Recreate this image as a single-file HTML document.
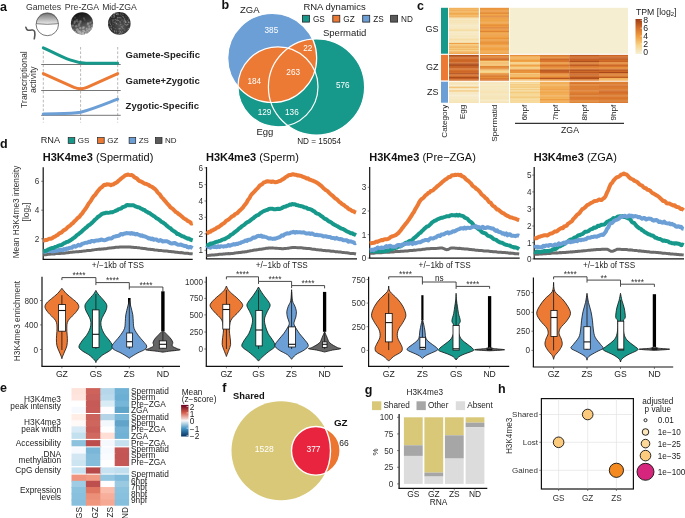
<!DOCTYPE html>
<html><head><meta charset="utf-8"><style>
html,body{margin:0;padding:0;background:#fff;width:685px;height:518px;overflow:hidden}
svg{display:block;font-family:"Liberation Sans",sans-serif;will-change:transform}
</style></head><body>
<svg width="685" height="518" viewBox="0 0 685 518">
<text x="0.00" y="10.50" font-size="12.5" text-anchor="start" font-weight="bold" fill="#111" >a</text><text x="43.50" y="10.20" font-size="8.7" text-anchor="middle" font-weight="normal" fill="#333" >Gametes</text><text x="82.00" y="10.00" font-size="8.7" text-anchor="middle" font-weight="normal" fill="#333" >Pre-ZGA</text><text x="119.50" y="10.00" font-size="8.7" text-anchor="middle" font-weight="normal" fill="#333" >Mid-ZGA</text><defs><linearGradient id="eggg" x1="0" y1="0" x2="0" y2="1"><stop offset="0" stop-color="#6e6e6e"/><stop offset="1" stop-color="#ececec"/></linearGradient><radialGradient id="emb1" cx="0.5" cy="0.2" r="0.9"><stop offset="0" stop-color="#222"/><stop offset="0.5" stop-color="#555"/><stop offset="1" stop-color="#bbb"/></radialGradient><radialGradient id="emb2" cx="0.5" cy="0.5" r="0.6"><stop offset="0" stop-color="#777"/><stop offset="1" stop-color="#3a3a3a"/></radialGradient></defs><path d="M36.1,23.7 A11.2,11.2 0 0 1 58.5,23.7 Q47.3,25 36.1,23.7 Z" fill="url(#eggg)"/><circle cx="47.3" cy="24.5" r="11.2" fill="none" stroke="#555" stroke-width="0.8"/><path d="M36.1,23.7 Q47.3,25 58.5,23.7" fill="none" stroke="#555" stroke-width="0.7"/><path d="M25.8,27.2 C26.5,31 29,30.5 32,30 C35,29.5 35.5,33 34.3,38.8" fill="none" stroke="#555" stroke-width="1.6" stroke-linecap="round"/><defs><linearGradient id="e1" x1="0" y1="0" x2="0.3" y2="1"><stop offset="0" stop-color="#0a0a0a"/><stop offset="0.5" stop-color="#333"/><stop offset="1" stop-color="#888"/></linearGradient><clipPath id="ce1"><circle cx="82" cy="23.4" r="11.1"/></clipPath><clipPath id="ce2"><circle cx="119.3" cy="23.4" r="11.3"/></clipPath><radialGradient id="e2" cx="0.6" cy="0.65" r="0.65"><stop offset="0" stop-color="#555"/><stop offset="1" stop-color="#1e1e1e"/></radialGradient></defs><circle cx="82" cy="23.4" r="11.1" fill="url(#e1)"/><g clip-path="url(#ce1)"><circle cx="89.7" cy="23.0" r="1.31" fill="#c8c8c8" opacity="0.31" stroke="#333" stroke-width="0.3"/><circle cx="85.1" cy="32.0" r="1.79" fill="#c8c8c8" opacity="0.68" stroke="#333" stroke-width="0.3"/><circle cx="90.2" cy="34.8" r="1.99" fill="#c8c8c8" opacity="0.84" stroke="#333" stroke-width="0.3"/><circle cx="90.3" cy="34.2" r="2.03" fill="#c8c8c8" opacity="0.80" stroke="#333" stroke-width="0.3"/><circle cx="72.5" cy="30.4" r="1.66" fill="#c8c8c8" opacity="0.60" stroke="#333" stroke-width="0.3"/><circle cx="77.3" cy="29.7" r="1.76" fill="#c8c8c8" opacity="0.56" stroke="#333" stroke-width="0.3"/><circle cx="77.6" cy="13.8" r="0.78" fill="#c8c8c8" opacity="0.15" stroke="#333" stroke-width="0.3"/><circle cx="75.0" cy="21.4" r="1.21" fill="#c8c8c8" opacity="0.27" stroke="#333" stroke-width="0.3"/><circle cx="71.0" cy="26.2" r="1.49" fill="#c8c8c8" opacity="0.42" stroke="#333" stroke-width="0.3"/><circle cx="86.8" cy="29.0" r="1.47" fill="#c8c8c8" opacity="0.53" stroke="#333" stroke-width="0.3"/><circle cx="86.0" cy="34.2" r="1.83" fill="#c8c8c8" opacity="0.80" stroke="#333" stroke-width="0.3"/><circle cx="79.0" cy="25.7" r="1.36" fill="#c8c8c8" opacity="0.40" stroke="#333" stroke-width="0.3"/><circle cx="74.8" cy="22.0" r="1.28" fill="#c8c8c8" opacity="0.28" stroke="#333" stroke-width="0.3"/><circle cx="90.9" cy="22.4" r="1.15" fill="#c8c8c8" opacity="0.29" stroke="#333" stroke-width="0.3"/><circle cx="80.2" cy="21.4" r="1.31" fill="#c8c8c8" opacity="0.27" stroke="#333" stroke-width="0.3"/><circle cx="80.5" cy="33.9" r="2.01" fill="#c8c8c8" opacity="0.78" stroke="#333" stroke-width="0.3"/><circle cx="87.6" cy="31.2" r="1.79" fill="#c8c8c8" opacity="0.64" stroke="#333" stroke-width="0.3"/><circle cx="77.1" cy="19.8" r="1.01" fill="#c8c8c8" opacity="0.23" stroke="#333" stroke-width="0.3"/><circle cx="84.0" cy="18.6" r="1.12" fill="#c8c8c8" opacity="0.21" stroke="#333" stroke-width="0.3"/><circle cx="80.0" cy="33.6" r="1.90" fill="#c8c8c8" opacity="0.77" stroke="#333" stroke-width="0.3"/><circle cx="80.2" cy="22.9" r="1.35" fill="#c8c8c8" opacity="0.31" stroke="#333" stroke-width="0.3"/><circle cx="71.8" cy="14.9" r="0.70" fill="#c8c8c8" opacity="0.16" stroke="#333" stroke-width="0.3"/><circle cx="92.9" cy="31.7" r="1.64" fill="#c8c8c8" opacity="0.66" stroke="#333" stroke-width="0.3"/><circle cx="80.2" cy="28.0" r="1.54" fill="#c8c8c8" opacity="0.49" stroke="#333" stroke-width="0.3"/><circle cx="82.8" cy="28.0" r="1.43" fill="#c8c8c8" opacity="0.49" stroke="#333" stroke-width="0.3"/><circle cx="80.3" cy="32.2" r="1.92" fill="#c8c8c8" opacity="0.69" stroke="#333" stroke-width="0.3"/><circle cx="91.2" cy="30.2" r="1.61" fill="#c8c8c8" opacity="0.59" stroke="#333" stroke-width="0.3"/><circle cx="72.9" cy="25.5" r="1.27" fill="#c8c8c8" opacity="0.39" stroke="#333" stroke-width="0.3"/><circle cx="88.3" cy="13.0" r="0.59" fill="#c8c8c8" opacity="0.15" stroke="#333" stroke-width="0.3"/><circle cx="92.4" cy="25.3" r="1.49" fill="#c8c8c8" opacity="0.38" stroke="#333" stroke-width="0.3"/><circle cx="88.2" cy="23.8" r="1.38" fill="#c8c8c8" opacity="0.33" stroke="#333" stroke-width="0.3"/><circle cx="87.7" cy="33.5" r="1.73" fill="#c8c8c8" opacity="0.76" stroke="#333" stroke-width="0.3"/><circle cx="83.5" cy="31.0" r="1.65" fill="#c8c8c8" opacity="0.63" stroke="#333" stroke-width="0.3"/><circle cx="76.2" cy="26.2" r="1.53" fill="#c8c8c8" opacity="0.42" stroke="#333" stroke-width="0.3"/><circle cx="83.9" cy="18.1" r="0.91" fill="#c8c8c8" opacity="0.20" stroke="#333" stroke-width="0.3"/><circle cx="86.0" cy="34.1" r="2.00" fill="#c8c8c8" opacity="0.79" stroke="#333" stroke-width="0.3"/><circle cx="77.7" cy="21.7" r="1.27" fill="#c8c8c8" opacity="0.28" stroke="#333" stroke-width="0.3"/><circle cx="72.6" cy="31.2" r="1.67" fill="#c8c8c8" opacity="0.64" stroke="#333" stroke-width="0.3"/><circle cx="83.8" cy="27.5" r="1.38" fill="#c8c8c8" opacity="0.47" stroke="#333" stroke-width="0.3"/><circle cx="92.5" cy="21.0" r="1.17" fill="#c8c8c8" opacity="0.26" stroke="#333" stroke-width="0.3"/><circle cx="92.6" cy="27.5" r="1.54" fill="#c8c8c8" opacity="0.47" stroke="#333" stroke-width="0.3"/><circle cx="74.6" cy="32.5" r="1.85" fill="#c8c8c8" opacity="0.70" stroke="#333" stroke-width="0.3"/><circle cx="87.9" cy="24.5" r="1.43" fill="#c8c8c8" opacity="0.36" stroke="#333" stroke-width="0.3"/><circle cx="76.6" cy="20.8" r="1.26" fill="#c8c8c8" opacity="0.25" stroke="#333" stroke-width="0.3"/><circle cx="78.6" cy="31.5" r="1.63" fill="#c8c8c8" opacity="0.65" stroke="#333" stroke-width="0.3"/><circle cx="89.3" cy="29.2" r="1.65" fill="#c8c8c8" opacity="0.54" stroke="#333" stroke-width="0.3"/><circle cx="75.1" cy="17.8" r="1.06" fill="#c8c8c8" opacity="0.19" stroke="#333" stroke-width="0.3"/><circle cx="89.0" cy="32.5" r="1.94" fill="#c8c8c8" opacity="0.71" stroke="#333" stroke-width="0.3"/><circle cx="71.7" cy="20.3" r="1.04" fill="#c8c8c8" opacity="0.24" stroke="#333" stroke-width="0.3"/><circle cx="82.9" cy="33.4" r="1.81" fill="#c8c8c8" opacity="0.76" stroke="#333" stroke-width="0.3"/><circle cx="91.8" cy="28.5" r="1.65" fill="#c8c8c8" opacity="0.51" stroke="#333" stroke-width="0.3"/><circle cx="89.1" cy="33.4" r="1.97" fill="#c8c8c8" opacity="0.76" stroke="#333" stroke-width="0.3"/><circle cx="87.9" cy="23.2" r="1.16" fill="#c8c8c8" opacity="0.31" stroke="#333" stroke-width="0.3"/><circle cx="74.7" cy="32.7" r="1.89" fill="#c8c8c8" opacity="0.72" stroke="#333" stroke-width="0.3"/><circle cx="79.0" cy="24.2" r="1.37" fill="#c8c8c8" opacity="0.35" stroke="#333" stroke-width="0.3"/><circle cx="79.8" cy="15.9" r="0.73" fill="#c8c8c8" opacity="0.17" stroke="#333" stroke-width="0.3"/><circle cx="74.4" cy="23.3" r="1.16" fill="#c8c8c8" opacity="0.32" stroke="#333" stroke-width="0.3"/><circle cx="80.8" cy="21.4" r="1.24" fill="#c8c8c8" opacity="0.27" stroke="#333" stroke-width="0.3"/><circle cx="84.8" cy="20.0" r="0.99" fill="#c8c8c8" opacity="0.23" stroke="#333" stroke-width="0.3"/><circle cx="89.2" cy="26.5" r="1.42" fill="#c8c8c8" opacity="0.43" stroke="#333" stroke-width="0.3"/><circle cx="86.2" cy="34.3" r="1.94" fill="#c8c8c8" opacity="0.81" stroke="#333" stroke-width="0.3"/></g><circle cx="119.3" cy="23.4" r="11.3" fill="url(#e2)"/><g clip-path="url(#ce2)"><circle cx="108.7" cy="14.0" r="0.35" fill="#cfcfcf" opacity="0.22"/><circle cx="109.2" cy="26.8" r="0.57" fill="#cfcfcf" opacity="0.29"/><circle cx="130.0" cy="22.8" r="0.54" fill="#cfcfcf" opacity="0.61"/><circle cx="129.2" cy="12.8" r="0.39" fill="#cfcfcf" opacity="0.47"/><circle cx="129.4" cy="14.0" r="0.39" fill="#cfcfcf" opacity="0.58"/><circle cx="110.6" cy="20.8" r="0.40" fill="#cfcfcf" opacity="0.51"/><circle cx="129.0" cy="15.9" r="0.52" fill="#cfcfcf" opacity="0.53"/><circle cx="126.9" cy="24.5" r="0.58" fill="#cfcfcf" opacity="0.36"/><circle cx="117.4" cy="17.2" r="0.53" fill="#cfcfcf" opacity="0.42"/><circle cx="114.1" cy="15.8" r="0.52" fill="#cfcfcf" opacity="0.47"/><circle cx="124.1" cy="20.7" r="0.45" fill="#cfcfcf" opacity="0.27"/><circle cx="124.1" cy="12.5" r="0.44" fill="#cfcfcf" opacity="0.54"/><circle cx="123.3" cy="14.2" r="0.37" fill="#cfcfcf" opacity="0.58"/><circle cx="122.5" cy="31.9" r="0.56" fill="#cfcfcf" opacity="0.40"/><circle cx="128.3" cy="28.6" r="0.40" fill="#cfcfcf" opacity="0.37"/><circle cx="109.6" cy="21.0" r="0.59" fill="#cfcfcf" opacity="0.25"/><circle cx="120.9" cy="14.5" r="0.32" fill="#cfcfcf" opacity="0.49"/><circle cx="113.4" cy="13.1" r="0.35" fill="#cfcfcf" opacity="0.49"/><circle cx="121.2" cy="12.3" r="0.37" fill="#cfcfcf" opacity="0.64"/><circle cx="113.0" cy="24.7" r="0.43" fill="#cfcfcf" opacity="0.55"/><circle cx="121.7" cy="29.8" r="0.46" fill="#cfcfcf" opacity="0.28"/><circle cx="112.0" cy="13.8" r="0.55" fill="#cfcfcf" opacity="0.25"/><circle cx="108.5" cy="33.8" r="0.36" fill="#cfcfcf" opacity="0.60"/><circle cx="109.9" cy="22.5" r="0.37" fill="#cfcfcf" opacity="0.57"/><circle cx="121.9" cy="26.5" r="0.53" fill="#cfcfcf" opacity="0.59"/><circle cx="115.8" cy="25.6" r="0.43" fill="#cfcfcf" opacity="0.25"/><circle cx="126.9" cy="25.4" r="0.54" fill="#cfcfcf" opacity="0.29"/><circle cx="120.2" cy="22.5" r="0.52" fill="#cfcfcf" opacity="0.23"/><circle cx="115.8" cy="23.0" r="0.32" fill="#cfcfcf" opacity="0.45"/><circle cx="124.6" cy="21.6" r="0.49" fill="#cfcfcf" opacity="0.47"/><circle cx="112.8" cy="19.9" r="0.60" fill="#cfcfcf" opacity="0.35"/><circle cx="117.7" cy="13.9" r="0.37" fill="#cfcfcf" opacity="0.27"/><circle cx="129.0" cy="28.4" r="0.56" fill="#cfcfcf" opacity="0.64"/><circle cx="121.8" cy="33.0" r="0.46" fill="#cfcfcf" opacity="0.39"/><circle cx="129.4" cy="32.4" r="0.58" fill="#cfcfcf" opacity="0.42"/><circle cx="125.5" cy="21.2" r="0.60" fill="#cfcfcf" opacity="0.61"/><circle cx="114.6" cy="33.1" r="0.36" fill="#cfcfcf" opacity="0.24"/><circle cx="124.3" cy="18.7" r="0.46" fill="#cfcfcf" opacity="0.49"/><circle cx="108.9" cy="28.8" r="0.38" fill="#cfcfcf" opacity="0.39"/><circle cx="115.8" cy="28.8" r="0.52" fill="#cfcfcf" opacity="0.33"/><circle cx="110.3" cy="18.8" r="0.42" fill="#cfcfcf" opacity="0.23"/><circle cx="111.5" cy="29.2" r="0.51" fill="#cfcfcf" opacity="0.64"/><circle cx="130.1" cy="31.8" r="0.41" fill="#cfcfcf" opacity="0.27"/><circle cx="115.0" cy="22.5" r="0.46" fill="#cfcfcf" opacity="0.44"/><circle cx="116.1" cy="31.3" r="0.39" fill="#cfcfcf" opacity="0.41"/><circle cx="128.0" cy="30.2" r="0.39" fill="#cfcfcf" opacity="0.31"/><circle cx="126.2" cy="12.2" r="0.34" fill="#cfcfcf" opacity="0.44"/><circle cx="120.1" cy="15.7" r="0.32" fill="#cfcfcf" opacity="0.29"/><circle cx="125.4" cy="22.5" r="0.59" fill="#cfcfcf" opacity="0.55"/><circle cx="130.1" cy="12.8" r="0.36" fill="#cfcfcf" opacity="0.21"/><circle cx="117.8" cy="19.6" r="0.32" fill="#cfcfcf" opacity="0.45"/><circle cx="110.1" cy="19.0" r="0.37" fill="#cfcfcf" opacity="0.56"/><circle cx="117.5" cy="17.9" r="0.31" fill="#cfcfcf" opacity="0.39"/><circle cx="122.2" cy="27.3" r="0.57" fill="#cfcfcf" opacity="0.56"/><circle cx="113.6" cy="15.1" r="0.53" fill="#cfcfcf" opacity="0.56"/><circle cx="119.5" cy="30.8" r="0.47" fill="#cfcfcf" opacity="0.33"/><circle cx="111.8" cy="12.4" r="0.49" fill="#cfcfcf" opacity="0.60"/><circle cx="128.5" cy="22.6" r="0.50" fill="#cfcfcf" opacity="0.62"/><circle cx="126.4" cy="25.6" r="0.42" fill="#cfcfcf" opacity="0.43"/><circle cx="111.9" cy="16.1" r="0.51" fill="#cfcfcf" opacity="0.65"/><circle cx="120.4" cy="21.2" r="0.41" fill="#cfcfcf" opacity="0.40"/><circle cx="126.1" cy="22.2" r="0.59" fill="#cfcfcf" opacity="0.27"/><circle cx="115.1" cy="23.8" r="0.42" fill="#cfcfcf" opacity="0.58"/><circle cx="126.7" cy="33.0" r="0.48" fill="#cfcfcf" opacity="0.21"/><circle cx="121.0" cy="24.4" r="0.45" fill="#cfcfcf" opacity="0.33"/><circle cx="124.0" cy="32.6" r="0.33" fill="#cfcfcf" opacity="0.50"/><circle cx="116.4" cy="23.6" r="0.57" fill="#cfcfcf" opacity="0.63"/><circle cx="122.5" cy="16.4" r="0.58" fill="#cfcfcf" opacity="0.28"/><circle cx="116.7" cy="30.7" r="0.39" fill="#cfcfcf" opacity="0.32"/><circle cx="129.5" cy="33.3" r="0.40" fill="#cfcfcf" opacity="0.38"/><circle cx="114.4" cy="15.0" r="0.38" fill="#cfcfcf" opacity="0.64"/><circle cx="109.8" cy="17.2" r="0.36" fill="#cfcfcf" opacity="0.24"/><circle cx="119.9" cy="28.8" r="0.55" fill="#cfcfcf" opacity="0.48"/><circle cx="126.5" cy="12.1" r="0.38" fill="#cfcfcf" opacity="0.63"/><circle cx="109.6" cy="18.0" r="0.44" fill="#cfcfcf" opacity="0.32"/><circle cx="120.3" cy="13.1" r="0.37" fill="#cfcfcf" opacity="0.63"/><circle cx="111.3" cy="32.5" r="0.35" fill="#cfcfcf" opacity="0.65"/><circle cx="123.2" cy="26.6" r="0.34" fill="#cfcfcf" opacity="0.22"/><circle cx="125.2" cy="16.0" r="0.36" fill="#cfcfcf" opacity="0.57"/><circle cx="127.8" cy="13.1" r="0.59" fill="#cfcfcf" opacity="0.44"/><circle cx="116.6" cy="14.4" r="0.42" fill="#cfcfcf" opacity="0.64"/><circle cx="114.3" cy="15.0" r="0.34" fill="#cfcfcf" opacity="0.26"/><circle cx="116.0" cy="32.7" r="0.32" fill="#cfcfcf" opacity="0.29"/><circle cx="129.2" cy="34.5" r="0.59" fill="#cfcfcf" opacity="0.31"/><circle cx="116.0" cy="33.5" r="0.45" fill="#cfcfcf" opacity="0.52"/><circle cx="115.1" cy="12.5" r="0.40" fill="#cfcfcf" opacity="0.54"/><circle cx="125.7" cy="24.9" r="0.44" fill="#cfcfcf" opacity="0.44"/><circle cx="118.0" cy="24.1" r="0.55" fill="#cfcfcf" opacity="0.29"/><circle cx="121.4" cy="33.1" r="0.55" fill="#cfcfcf" opacity="0.28"/><circle cx="129.8" cy="31.0" r="0.35" fill="#cfcfcf" opacity="0.32"/><circle cx="112.6" cy="13.2" r="0.59" fill="#cfcfcf" opacity="0.38"/><circle cx="127.7" cy="14.6" r="0.30" fill="#cfcfcf" opacity="0.59"/><circle cx="125.9" cy="34.4" r="0.51" fill="#cfcfcf" opacity="0.44"/><circle cx="125.3" cy="14.1" r="0.46" fill="#cfcfcf" opacity="0.40"/><circle cx="111.3" cy="25.6" r="0.40" fill="#cfcfcf" opacity="0.43"/><circle cx="116.4" cy="19.2" r="0.41" fill="#cfcfcf" opacity="0.47"/><circle cx="130.2" cy="33.2" r="0.56" fill="#cfcfcf" opacity="0.58"/><circle cx="114.5" cy="34.1" r="0.38" fill="#cfcfcf" opacity="0.26"/><circle cx="119.3" cy="28.5" r="0.40" fill="#cfcfcf" opacity="0.49"/><circle cx="114.4" cy="33.9" r="0.44" fill="#cfcfcf" opacity="0.42"/><circle cx="120.0" cy="31.8" r="0.60" fill="#cfcfcf" opacity="0.44"/><circle cx="118.0" cy="26.0" r="0.32" fill="#cfcfcf" opacity="0.39"/><circle cx="127.2" cy="29.6" r="0.32" fill="#cfcfcf" opacity="0.58"/><circle cx="116.7" cy="34.2" r="0.41" fill="#cfcfcf" opacity="0.30"/><circle cx="120.4" cy="32.0" r="0.43" fill="#cfcfcf" opacity="0.59"/><circle cx="124.1" cy="20.2" r="0.39" fill="#cfcfcf" opacity="0.43"/><circle cx="117.0" cy="20.4" r="0.50" fill="#cfcfcf" opacity="0.59"/><circle cx="121.2" cy="15.3" r="0.37" fill="#cfcfcf" opacity="0.37"/><circle cx="121.9" cy="15.2" r="0.32" fill="#cfcfcf" opacity="0.34"/><circle cx="114.4" cy="12.7" r="0.46" fill="#cfcfcf" opacity="0.61"/><circle cx="120.1" cy="28.7" r="0.55" fill="#cfcfcf" opacity="0.58"/><circle cx="128.6" cy="22.0" r="0.50" fill="#cfcfcf" opacity="0.25"/><circle cx="127.9" cy="20.5" r="0.44" fill="#cfcfcf" opacity="0.60"/><circle cx="114.5" cy="16.3" r="0.55" fill="#cfcfcf" opacity="0.47"/><circle cx="109.9" cy="12.6" r="0.41" fill="#cfcfcf" opacity="0.20"/><circle cx="126.8" cy="16.2" r="0.38" fill="#cfcfcf" opacity="0.37"/><circle cx="119.6" cy="21.8" r="0.49" fill="#cfcfcf" opacity="0.50"/><circle cx="117.9" cy="14.2" r="0.59" fill="#cfcfcf" opacity="0.51"/><circle cx="109.9" cy="22.0" r="0.53" fill="#cfcfcf" opacity="0.65"/><circle cx="109.5" cy="12.2" r="0.44" fill="#cfcfcf" opacity="0.39"/><circle cx="128.2" cy="30.7" r="0.40" fill="#cfcfcf" opacity="0.39"/><circle cx="121.2" cy="32.0" r="0.36" fill="#cfcfcf" opacity="0.38"/><circle cx="110.0" cy="26.5" r="0.31" fill="#cfcfcf" opacity="0.62"/><circle cx="119.8" cy="25.0" r="0.33" fill="#cfcfcf" opacity="0.30"/><circle cx="118.6" cy="31.4" r="0.46" fill="#cfcfcf" opacity="0.33"/><circle cx="130.2" cy="26.9" r="0.46" fill="#cfcfcf" opacity="0.29"/><circle cx="114.7" cy="32.3" r="0.34" fill="#cfcfcf" opacity="0.44"/><circle cx="122.0" cy="20.0" r="0.53" fill="#cfcfcf" opacity="0.61"/><circle cx="127.4" cy="28.7" r="0.36" fill="#cfcfcf" opacity="0.23"/><circle cx="117.8" cy="19.1" r="0.36" fill="#cfcfcf" opacity="0.59"/><circle cx="112.9" cy="30.6" r="0.58" fill="#cfcfcf" opacity="0.25"/><circle cx="128.6" cy="21.0" r="0.36" fill="#cfcfcf" opacity="0.28"/><circle cx="108.9" cy="23.3" r="0.42" fill="#cfcfcf" opacity="0.58"/><circle cx="126.8" cy="13.3" r="0.42" fill="#cfcfcf" opacity="0.38"/><circle cx="112.0" cy="17.7" r="0.38" fill="#cfcfcf" opacity="0.51"/><circle cx="115.7" cy="14.5" r="0.37" fill="#cfcfcf" opacity="0.40"/><circle cx="120.8" cy="17.5" r="0.51" fill="#cfcfcf" opacity="0.30"/><circle cx="123.2" cy="25.8" r="0.35" fill="#cfcfcf" opacity="0.54"/><circle cx="116.9" cy="24.2" r="0.48" fill="#cfcfcf" opacity="0.48"/><circle cx="118.0" cy="13.3" r="0.54" fill="#cfcfcf" opacity="0.59"/><circle cx="119.1" cy="25.1" r="0.38" fill="#cfcfcf" opacity="0.60"/><circle cx="123.5" cy="17.0" r="0.55" fill="#cfcfcf" opacity="0.64"/><circle cx="115.8" cy="34.5" r="0.44" fill="#cfcfcf" opacity="0.28"/><circle cx="124.2" cy="19.7" r="0.52" fill="#cfcfcf" opacity="0.46"/><circle cx="110.4" cy="23.9" r="0.56" fill="#cfcfcf" opacity="0.42"/><circle cx="120.2" cy="31.5" r="0.43" fill="#cfcfcf" opacity="0.42"/><circle cx="121.2" cy="30.6" r="0.36" fill="#cfcfcf" opacity="0.24"/><circle cx="125.2" cy="24.5" r="0.39" fill="#cfcfcf" opacity="0.60"/><circle cx="128.0" cy="24.2" r="0.60" fill="#cfcfcf" opacity="0.58"/><circle cx="124.9" cy="18.6" r="0.30" fill="#cfcfcf" opacity="0.51"/><circle cx="124.6" cy="19.9" r="0.44" fill="#cfcfcf" opacity="0.46"/><circle cx="113.6" cy="27.8" r="0.47" fill="#cfcfcf" opacity="0.37"/><circle cx="110.5" cy="24.5" r="0.40" fill="#cfcfcf" opacity="0.53"/><circle cx="111.9" cy="20.9" r="0.36" fill="#cfcfcf" opacity="0.38"/><circle cx="121.0" cy="14.4" r="0.32" fill="#cfcfcf" opacity="0.42"/><circle cx="112.6" cy="23.4" r="0.35" fill="#cfcfcf" opacity="0.25"/><circle cx="120.1" cy="32.9" r="0.56" fill="#cfcfcf" opacity="0.43"/><circle cx="117.0" cy="13.5" r="0.38" fill="#cfcfcf" opacity="0.34"/><circle cx="129.3" cy="14.6" r="0.58" fill="#cfcfcf" opacity="0.41"/><circle cx="117.8" cy="17.9" r="0.59" fill="#cfcfcf" opacity="0.28"/><circle cx="120.9" cy="23.5" r="0.36" fill="#cfcfcf" opacity="0.30"/><circle cx="130.3" cy="29.9" r="0.52" fill="#cfcfcf" opacity="0.61"/><circle cx="110.2" cy="27.9" r="0.53" fill="#cfcfcf" opacity="0.30"/><circle cx="118.3" cy="34.0" r="0.40" fill="#cfcfcf" opacity="0.54"/><circle cx="111.7" cy="27.1" r="0.38" fill="#cfcfcf" opacity="0.43"/><circle cx="116.4" cy="31.7" r="0.52" fill="#cfcfcf" opacity="0.43"/><circle cx="123.5" cy="21.7" r="0.54" fill="#cfcfcf" opacity="0.32"/><circle cx="120.3" cy="25.2" r="0.42" fill="#cfcfcf" opacity="0.22"/><circle cx="111.8" cy="26.5" r="0.36" fill="#cfcfcf" opacity="0.54"/><circle cx="119.4" cy="33.5" r="0.55" fill="#cfcfcf" opacity="0.53"/><circle cx="116.4" cy="13.0" r="0.47" fill="#cfcfcf" opacity="0.54"/><circle cx="128.8" cy="16.6" r="0.35" fill="#cfcfcf" opacity="0.64"/><circle cx="124.7" cy="23.0" r="0.52" fill="#cfcfcf" opacity="0.27"/><circle cx="120.3" cy="27.1" r="0.48" fill="#cfcfcf" opacity="0.27"/><circle cx="111.1" cy="26.1" r="0.57" fill="#cfcfcf" opacity="0.26"/><circle cx="108.2" cy="13.9" r="0.54" fill="#cfcfcf" opacity="0.38"/><circle cx="118.3" cy="34.5" r="0.48" fill="#cfcfcf" opacity="0.32"/><circle cx="123.8" cy="12.0" r="0.38" fill="#cfcfcf" opacity="0.51"/><circle cx="111.9" cy="12.7" r="0.46" fill="#cfcfcf" opacity="0.35"/><circle cx="129.9" cy="14.3" r="0.54" fill="#cfcfcf" opacity="0.37"/><circle cx="126.2" cy="22.1" r="0.50" fill="#cfcfcf" opacity="0.35"/><circle cx="113.1" cy="22.2" r="0.54" fill="#cfcfcf" opacity="0.36"/><circle cx="113.2" cy="21.4" r="0.33" fill="#cfcfcf" opacity="0.34"/><circle cx="120.9" cy="24.3" r="0.48" fill="#cfcfcf" opacity="0.33"/><circle cx="108.6" cy="12.6" r="0.40" fill="#cfcfcf" opacity="0.29"/><circle cx="120.9" cy="18.0" r="0.53" fill="#cfcfcf" opacity="0.47"/><circle cx="123.0" cy="28.6" r="0.46" fill="#cfcfcf" opacity="0.39"/><circle cx="115.0" cy="13.4" r="0.54" fill="#cfcfcf" opacity="0.43"/><circle cx="110.3" cy="32.9" r="0.47" fill="#cfcfcf" opacity="0.48"/><circle cx="117.9" cy="14.9" r="0.60" fill="#cfcfcf" opacity="0.28"/><circle cx="116.3" cy="34.6" r="0.34" fill="#cfcfcf" opacity="0.42"/><circle cx="118.8" cy="17.6" r="0.58" fill="#cfcfcf" opacity="0.39"/><circle cx="108.3" cy="22.7" r="0.30" fill="#cfcfcf" opacity="0.52"/><circle cx="127.6" cy="32.5" r="0.31" fill="#cfcfcf" opacity="0.50"/><circle cx="114.9" cy="22.7" r="0.39" fill="#cfcfcf" opacity="0.34"/><circle cx="111.0" cy="26.1" r="0.33" fill="#cfcfcf" opacity="0.63"/><circle cx="109.0" cy="33.8" r="0.36" fill="#cfcfcf" opacity="0.24"/><circle cx="124.8" cy="24.0" r="0.53" fill="#cfcfcf" opacity="0.43"/><circle cx="122.3" cy="13.9" r="0.50" fill="#cfcfcf" opacity="0.43"/><circle cx="129.7" cy="12.1" r="0.32" fill="#cfcfcf" opacity="0.50"/><circle cx="128.9" cy="21.5" r="0.51" fill="#cfcfcf" opacity="0.45"/><circle cx="116.8" cy="22.5" r="0.48" fill="#cfcfcf" opacity="0.21"/><circle cx="114.9" cy="28.7" r="0.38" fill="#cfcfcf" opacity="0.41"/><circle cx="113.8" cy="20.1" r="0.50" fill="#cfcfcf" opacity="0.53"/><circle cx="129.6" cy="22.8" r="0.36" fill="#cfcfcf" opacity="0.35"/><circle cx="109.3" cy="17.4" r="0.48" fill="#cfcfcf" opacity="0.47"/><circle cx="113.5" cy="16.1" r="0.33" fill="#cfcfcf" opacity="0.28"/><circle cx="119.3" cy="17.8" r="0.57" fill="#cfcfcf" opacity="0.45"/><circle cx="115.7" cy="21.7" r="0.31" fill="#cfcfcf" opacity="0.53"/><circle cx="125.0" cy="20.2" r="0.52" fill="#cfcfcf" opacity="0.32"/><circle cx="113.0" cy="17.2" r="0.36" fill="#cfcfcf" opacity="0.47"/><circle cx="122.5" cy="28.4" r="0.33" fill="#cfcfcf" opacity="0.54"/><circle cx="118.8" cy="20.6" r="0.45" fill="#cfcfcf" opacity="0.39"/><circle cx="112.5" cy="20.9" r="0.49" fill="#cfcfcf" opacity="0.52"/><circle cx="128.7" cy="16.4" r="0.57" fill="#cfcfcf" opacity="0.56"/><circle cx="124.1" cy="34.1" r="0.34" fill="#cfcfcf" opacity="0.55"/><circle cx="128.3" cy="14.8" r="0.48" fill="#cfcfcf" opacity="0.63"/><circle cx="114.6" cy="31.3" r="0.57" fill="#cfcfcf" opacity="0.40"/><circle cx="111.3" cy="16.9" r="0.55" fill="#cfcfcf" opacity="0.39"/><circle cx="115.1" cy="22.0" r="0.58" fill="#cfcfcf" opacity="0.31"/><circle cx="108.4" cy="33.5" r="0.40" fill="#cfcfcf" opacity="0.37"/><circle cx="130.1" cy="18.4" r="0.33" fill="#cfcfcf" opacity="0.60"/><circle cx="113.5" cy="17.0" r="0.58" fill="#cfcfcf" opacity="0.30"/><circle cx="128.4" cy="19.5" r="0.39" fill="#cfcfcf" opacity="0.30"/><circle cx="120.3" cy="24.7" r="0.42" fill="#cfcfcf" opacity="0.43"/><circle cx="114.7" cy="30.9" r="0.58" fill="#cfcfcf" opacity="0.54"/><circle cx="126.5" cy="13.6" r="0.38" fill="#cfcfcf" opacity="0.29"/><circle cx="111.5" cy="33.9" r="0.57" fill="#cfcfcf" opacity="0.61"/><circle cx="120.6" cy="14.6" r="0.43" fill="#cfcfcf" opacity="0.23"/><circle cx="128.4" cy="18.0" r="0.39" fill="#cfcfcf" opacity="0.63"/><circle cx="112.5" cy="32.9" r="0.39" fill="#cfcfcf" opacity="0.50"/><circle cx="110.4" cy="32.3" r="0.42" fill="#cfcfcf" opacity="0.36"/><circle cx="122.8" cy="25.4" r="0.38" fill="#cfcfcf" opacity="0.26"/><circle cx="121.0" cy="12.6" r="0.56" fill="#cfcfcf" opacity="0.35"/><circle cx="111.8" cy="19.4" r="0.33" fill="#cfcfcf" opacity="0.34"/><circle cx="120.3" cy="21.2" r="0.40" fill="#cfcfcf" opacity="0.33"/><circle cx="119.0" cy="29.6" r="0.43" fill="#cfcfcf" opacity="0.55"/><circle cx="118.9" cy="14.7" r="0.35" fill="#cfcfcf" opacity="0.58"/><circle cx="118.8" cy="20.6" r="0.45" fill="#cfcfcf" opacity="0.58"/><circle cx="116.5" cy="20.2" r="0.41" fill="#cfcfcf" opacity="0.20"/><circle cx="120.3" cy="22.8" r="0.45" fill="#cfcfcf" opacity="0.40"/><circle cx="118.7" cy="28.2" r="0.36" fill="#cfcfcf" opacity="0.64"/><circle cx="110.6" cy="31.6" r="0.35" fill="#cfcfcf" opacity="0.56"/><circle cx="113.9" cy="13.8" r="0.46" fill="#cfcfcf" opacity="0.58"/><circle cx="127.1" cy="31.8" r="0.59" fill="#cfcfcf" opacity="0.22"/><circle cx="116.6" cy="14.4" r="0.53" fill="#cfcfcf" opacity="0.40"/><circle cx="124.8" cy="30.0" r="0.60" fill="#cfcfcf" opacity="0.50"/><circle cx="127.8" cy="24.4" r="0.32" fill="#cfcfcf" opacity="0.60"/><circle cx="110.1" cy="13.9" r="0.55" fill="#cfcfcf" opacity="0.33"/><circle cx="123.0" cy="12.6" r="0.36" fill="#cfcfcf" opacity="0.52"/><circle cx="108.9" cy="23.5" r="0.58" fill="#cfcfcf" opacity="0.30"/><circle cx="123.9" cy="28.8" r="0.49" fill="#cfcfcf" opacity="0.54"/><circle cx="123.8" cy="12.3" r="0.36" fill="#cfcfcf" opacity="0.44"/><circle cx="129.9" cy="16.9" r="0.48" fill="#cfcfcf" opacity="0.26"/><circle cx="127.1" cy="22.1" r="0.46" fill="#cfcfcf" opacity="0.50"/><circle cx="111.1" cy="28.5" r="0.54" fill="#cfcfcf" opacity="0.59"/><circle cx="114.4" cy="17.3" r="0.35" fill="#cfcfcf" opacity="0.60"/><circle cx="117.9" cy="20.8" r="0.46" fill="#cfcfcf" opacity="0.51"/><circle cx="115.2" cy="19.6" r="0.53" fill="#cfcfcf" opacity="0.55"/><circle cx="114.7" cy="13.7" r="0.58" fill="#cfcfcf" opacity="0.53"/></g><line x1="43.3" y1="47" x2="43.3" y2="122.5" stroke="#888" stroke-width="0.6" stroke-dasharray="2.6,1.8"/><line x1="80.6" y1="47" x2="80.6" y2="122.5" stroke="#888" stroke-width="0.6" stroke-dasharray="2.6,1.8"/><line x1="117.7" y1="47" x2="117.7" y2="122.5" stroke="#888" stroke-width="0.6" stroke-dasharray="2.6,1.8"/><line x1="41.2" y1="64.5" x2="120.7" y2="64.5" stroke="#666" stroke-width="0.9"/><line x1="41.2" y1="90.5" x2="120.7" y2="90.5" stroke="#666" stroke-width="0.9"/><line x1="41.2" y1="115.3" x2="120.7" y2="115.3" stroke="#666" stroke-width="0.9"/><path d="M43.3,47.9 C58,54 70,62.6 86,63.2 L117.7,63.2" fill="none" stroke="#16988a" stroke-width="3" stroke-linecap="round"/><path d="M43.3,73.6 L74,87.3 Q80.6,90 87,87.3 L117.7,73.6" fill="none" stroke="#ec7a35" stroke-width="3" stroke-linecap="round"/><path d="M43.3,113.9 C60,113.5 72,113.8 80.6,112.3 C92,109.5 105,104 117.7,99.2" fill="none" stroke="#6c9fd6" stroke-width="3" stroke-linecap="round"/><text transform="translate(27,79.6) rotate(-90)" font-size="8.7" text-anchor="middle" fill="#333">Transcriptional</text><text transform="translate(35.5,79.6) rotate(-90)" font-size="8.7" text-anchor="middle" fill="#333">activity</text><text x="125.60" y="57.80" font-size="9.5" text-anchor="start" font-weight="bold" fill="#222" >Gamete-Specific</text><text x="125.60" y="83.50" font-size="9.5" text-anchor="start" font-weight="bold" fill="#222" >Gamete+Zygotic</text><text x="125.60" y="108.50" font-size="9.5" text-anchor="start" font-weight="bold" fill="#222" >Zygotic-Specific</text><text x="221.50" y="9.20" font-size="12.5" text-anchor="start" font-weight="bold" fill="#111" >b</text><defs><clipPath id="czga"><circle cx="272.2" cy="58" r="44.5"/></clipPath></defs><circle cx="278" cy="86.8" r="40" fill="#16988a"/><circle cx="316.5" cy="87" r="48.1" fill="#16988a"/><circle cx="272.2" cy="58" r="44.5" fill="#6c9fd6"/><g clip-path="url(#czga)"><circle cx="278" cy="86.8" r="40" fill="#ec7a35"/><circle cx="316.5" cy="87" r="48.1" fill="#ec7a35"/></g><circle cx="272.2" cy="58" r="44.5" fill="none" stroke="#fff" stroke-width="1.2"/><circle cx="278" cy="86.8" r="40" fill="none" stroke="#fff" stroke-width="1.2"/><circle cx="316.5" cy="87" r="48.1" fill="none" stroke="#fff" stroke-width="1.2"/><text x="271.40" y="33.20" font-size="8.2" text-anchor="middle" font-weight="normal" fill="#fff" >385</text><text x="307.70" y="50.60" font-size="8.2" text-anchor="middle" font-weight="normal" fill="#fff" >22</text><text x="293.20" y="75.00" font-size="8.2" text-anchor="middle" font-weight="normal" fill="#fff" >263</text><text x="254.30" y="84.40" font-size="8.2" text-anchor="middle" font-weight="normal" fill="#fff" >184</text><text x="342.80" y="88.30" font-size="8.2" text-anchor="middle" font-weight="normal" fill="#fff" >576</text><text x="264.60" y="114.50" font-size="8.2" text-anchor="middle" font-weight="normal" fill="#fff" >129</text><text x="291.90" y="114.50" font-size="8.2" text-anchor="middle" font-weight="normal" fill="#fff" >136</text><text x="240.00" y="12.80" font-size="9.5" text-anchor="start" font-weight="normal" fill="#222" >ZGA</text><text x="323.00" y="36.30" font-size="9.5" text-anchor="start" font-weight="normal" fill="#222" >Spermatid</text><text x="256.50" y="135.20" font-size="9.5" text-anchor="start" font-weight="normal" fill="#222" >Egg</text><text x="297.20" y="144.00" font-size="8.2" text-anchor="start" font-weight="normal" fill="#222" >ND = 15054</text><text x="303.40" y="10.30" font-size="9.5" text-anchor="start" font-weight="normal" fill="#222" >RNA dynamics</text><rect x="302.5" y="15.3" width="7" height="6.8" fill="#16988a" stroke="#222" stroke-width="0.8"/><text x="313.00" y="21.80" font-size="8.2" text-anchor="start" font-weight="normal" fill="#222" >GS</text><rect x="332.8" y="15.3" width="7" height="6.8" fill="#ec7a35" stroke="#222" stroke-width="0.8"/><text x="343.30" y="21.80" font-size="8.2" text-anchor="start" font-weight="normal" fill="#222" >GZ</text><rect x="362.7" y="15.3" width="7" height="6.8" fill="#6c9fd6" stroke="#222" stroke-width="0.8"/><text x="373.20" y="21.80" font-size="8.2" text-anchor="start" font-weight="normal" fill="#222" >ZS</text><rect x="390.6" y="15.3" width="7" height="6.8" fill="#5a5a5a" stroke="#222" stroke-width="0.8"/><text x="401.10" y="21.80" font-size="8.2" text-anchor="start" font-weight="normal" fill="#222" >ND</text><text x="417.00" y="9.80" font-size="12.5" text-anchor="start" font-weight="bold" fill="#111" >c</text><rect x="441" y="7.8" width="7" height="45.900000000000006" fill="#16988a"/><rect x="441" y="54.9" width="7" height="25.500000000000007" fill="#ec7a35"/><rect x="441" y="81.7" width="7" height="21.0" fill="#6c9fd6"/><rect x="449.00" y="7.80" width="29.80" height="1.51" fill="#f2b15b"/><rect x="449.00" y="9.01" width="29.80" height="1.51" fill="#f3b865"/><rect x="449.00" y="10.22" width="29.80" height="1.51" fill="#f0a448"/><rect x="449.00" y="11.42" width="29.80" height="1.51" fill="#f3bc69"/><rect x="449.00" y="12.63" width="29.80" height="1.51" fill="#f1a84f"/><rect x="449.00" y="13.84" width="29.80" height="1.51" fill="#f2af58"/><rect x="449.00" y="15.05" width="29.80" height="1.51" fill="#f3bc6a"/><rect x="449.00" y="16.26" width="29.80" height="1.51" fill="#f1aa50"/><rect x="449.00" y="17.46" width="29.80" height="1.51" fill="#f6dea7"/><rect x="449.00" y="18.67" width="29.80" height="1.51" fill="#f6e9c4"/><rect x="449.00" y="19.88" width="29.80" height="1.51" fill="#f6e3b2"/><rect x="449.00" y="21.09" width="29.80" height="1.51" fill="#f6e5b9"/><rect x="449.00" y="22.29" width="29.80" height="1.51" fill="#f6e1ae"/><rect x="449.00" y="23.50" width="29.80" height="1.51" fill="#f6e8bf"/><rect x="449.00" y="24.71" width="29.80" height="1.51" fill="#f6ecca"/><rect x="449.00" y="25.92" width="29.80" height="1.51" fill="#f6e9c3"/><rect x="449.00" y="27.13" width="29.80" height="1.51" fill="#f6e8c2"/><rect x="449.00" y="28.33" width="29.80" height="1.51" fill="#f6e3b2"/><rect x="449.00" y="29.54" width="29.80" height="1.51" fill="#f6da9a"/><rect x="449.00" y="30.75" width="29.80" height="1.51" fill="#f6e8c0"/><rect x="449.00" y="31.96" width="29.80" height="1.51" fill="#f6ebca"/><rect x="449.00" y="33.17" width="29.80" height="1.51" fill="#f6e6ba"/><rect x="449.00" y="34.37" width="29.80" height="1.51" fill="#f6e7be"/><rect x="449.00" y="35.58" width="29.80" height="1.51" fill="#f6e5ba"/><rect x="449.00" y="36.79" width="29.80" height="1.51" fill="#f6e9c2"/><rect x="449.00" y="38.00" width="29.80" height="1.51" fill="#f6e4b6"/><rect x="449.00" y="39.21" width="29.80" height="1.51" fill="#f6da9b"/><rect x="449.00" y="40.41" width="29.80" height="1.51" fill="#f6e2b0"/><rect x="449.00" y="41.62" width="29.80" height="1.51" fill="#f6e9c3"/><rect x="449.00" y="42.83" width="29.80" height="1.51" fill="#f0a144"/><rect x="449.00" y="44.04" width="29.80" height="1.51" fill="#f6cd81"/><rect x="449.00" y="45.24" width="29.80" height="1.51" fill="#f4be6c"/><rect x="449.00" y="46.45" width="29.80" height="1.51" fill="#f1ac54"/><rect x="449.00" y="47.66" width="29.80" height="1.51" fill="#f5cc7f"/><rect x="449.00" y="48.87" width="29.80" height="1.51" fill="#f3ba67"/><rect x="449.00" y="50.08" width="29.80" height="1.51" fill="#f6d187"/><rect x="449.00" y="51.28" width="29.80" height="1.51" fill="#f2b15a"/><rect x="449.00" y="52.49" width="29.80" height="1.51" fill="#f1ac53"/><rect x="480.00" y="7.80" width="29.00" height="1.51" fill="#ea953d"/><rect x="480.00" y="9.01" width="29.00" height="1.51" fill="#ec993f"/><rect x="480.00" y="10.22" width="29.00" height="1.51" fill="#ed9b40"/><rect x="480.00" y="11.42" width="29.00" height="1.51" fill="#ea963e"/><rect x="480.00" y="12.63" width="29.00" height="1.51" fill="#e38937"/><rect x="480.00" y="13.84" width="29.00" height="1.51" fill="#f0a64b"/><rect x="480.00" y="15.05" width="29.00" height="1.51" fill="#ec9a40"/><rect x="480.00" y="16.26" width="29.00" height="1.51" fill="#e08435"/><rect x="480.00" y="17.46" width="29.00" height="1.51" fill="#ef9f42"/><rect x="480.00" y="18.67" width="29.00" height="1.51" fill="#f0a74d"/><rect x="480.00" y="19.88" width="29.00" height="1.51" fill="#f0a448"/><rect x="480.00" y="21.09" width="29.00" height="1.51" fill="#f0a64b"/><rect x="480.00" y="22.29" width="29.00" height="1.51" fill="#f0a549"/><rect x="480.00" y="23.50" width="29.00" height="1.51" fill="#ef9f42"/><rect x="480.00" y="24.71" width="29.00" height="1.51" fill="#e68f3a"/><rect x="480.00" y="25.92" width="29.00" height="1.51" fill="#ed9c41"/><rect x="480.00" y="27.13" width="29.00" height="1.51" fill="#e08435"/><rect x="480.00" y="28.33" width="29.00" height="1.51" fill="#e48c39"/><rect x="480.00" y="29.54" width="29.00" height="1.51" fill="#f0a043"/><rect x="480.00" y="30.75" width="29.00" height="1.51" fill="#de8234"/><rect x="480.00" y="31.96" width="29.00" height="1.51" fill="#f0a448"/><rect x="480.00" y="33.17" width="29.00" height="1.51" fill="#f0a247"/><rect x="480.00" y="34.37" width="29.00" height="1.51" fill="#ed9b40"/><rect x="480.00" y="35.58" width="29.00" height="1.51" fill="#f1a74d"/><rect x="480.00" y="36.79" width="29.00" height="1.51" fill="#f0a043"/><rect x="480.00" y="38.00" width="29.00" height="1.51" fill="#e9943d"/><rect x="480.00" y="39.21" width="29.00" height="1.51" fill="#ee9d41"/><rect x="480.00" y="40.41" width="29.00" height="1.51" fill="#ec993f"/><rect x="480.00" y="41.62" width="29.00" height="1.51" fill="#e9953d"/><rect x="480.00" y="42.83" width="29.00" height="1.51" fill="#ea953e"/><rect x="480.00" y="44.04" width="29.00" height="1.51" fill="#ef9f42"/><rect x="480.00" y="45.24" width="29.00" height="1.51" fill="#f0a54a"/><rect x="480.00" y="46.45" width="29.00" height="1.51" fill="#f0a64b"/><rect x="480.00" y="47.66" width="29.00" height="1.51" fill="#f0a347"/><rect x="480.00" y="48.87" width="29.00" height="1.51" fill="#f0a043"/><rect x="480.00" y="50.08" width="29.00" height="1.51" fill="#f1a74d"/><rect x="480.00" y="51.28" width="29.00" height="1.51" fill="#f0a54a"/><rect x="480.00" y="52.49" width="29.00" height="1.51" fill="#f0a74c"/><rect x="510" y="7.8" width="118" height="45.900000000000006" fill="#f6eed0"/><rect x="449.00" y="54.90" width="29.80" height="1.51" fill="#b1501e"/><rect x="449.00" y="56.11" width="29.80" height="1.51" fill="#be5b23"/><rect x="449.00" y="57.33" width="29.80" height="1.51" fill="#d4702b"/><rect x="449.00" y="58.54" width="29.80" height="1.51" fill="#d16b29"/><rect x="449.00" y="59.76" width="29.80" height="1.51" fill="#cc6727"/><rect x="449.00" y="60.97" width="29.80" height="1.51" fill="#cb6627"/><rect x="449.00" y="62.19" width="29.80" height="1.51" fill="#d5712c"/><rect x="449.00" y="63.40" width="29.80" height="1.51" fill="#b2511f"/><rect x="449.00" y="64.61" width="29.80" height="1.51" fill="#ab4b1c"/><rect x="449.00" y="65.83" width="29.80" height="1.51" fill="#c66225"/><rect x="449.00" y="67.04" width="29.80" height="1.51" fill="#c56125"/><rect x="449.00" y="68.26" width="29.80" height="1.51" fill="#d6732d"/><rect x="449.00" y="69.47" width="29.80" height="1.51" fill="#d6722c"/><rect x="449.00" y="70.69" width="29.80" height="1.51" fill="#cc6727"/><rect x="449.00" y="71.90" width="29.80" height="1.51" fill="#d06b29"/><rect x="449.00" y="73.11" width="29.80" height="1.51" fill="#b3521f"/><rect x="449.00" y="74.33" width="29.80" height="1.51" fill="#d46f2b"/><rect x="449.00" y="75.54" width="29.80" height="1.51" fill="#d8762e"/><rect x="449.00" y="76.76" width="29.80" height="1.51" fill="#ad4c1d"/><rect x="449.00" y="77.97" width="29.80" height="1.51" fill="#c35f24"/><rect x="449.00" y="79.19" width="29.80" height="1.51" fill="#d4702b"/><rect x="480.00" y="54.90" width="29.00" height="1.51" fill="#d9782f"/><rect x="480.00" y="56.11" width="29.00" height="1.51" fill="#e38a38"/><rect x="480.00" y="57.33" width="29.00" height="1.51" fill="#d9782f"/><rect x="480.00" y="58.54" width="29.00" height="1.51" fill="#ce6828"/><rect x="480.00" y="59.76" width="29.00" height="1.51" fill="#e58e3a"/><rect x="480.00" y="60.97" width="29.00" height="1.51" fill="#f6cd80"/><rect x="480.00" y="62.19" width="29.00" height="1.51" fill="#f3ba66"/><rect x="480.00" y="63.40" width="29.00" height="1.51" fill="#f3b966"/><rect x="480.00" y="64.61" width="29.00" height="1.51" fill="#f6d389"/><rect x="480.00" y="65.83" width="29.00" height="1.51" fill="#e18636"/><rect x="480.00" y="67.04" width="29.00" height="1.51" fill="#e48b38"/><rect x="480.00" y="68.26" width="29.00" height="1.51" fill="#e58d39"/><rect x="480.00" y="69.47" width="29.00" height="1.51" fill="#f5c677"/><rect x="480.00" y="70.69" width="29.00" height="1.51" fill="#f6d997"/><rect x="480.00" y="71.90" width="29.00" height="1.51" fill="#f6d186"/><rect x="480.00" y="73.11" width="29.00" height="1.51" fill="#ec993f"/><rect x="480.00" y="74.33" width="29.00" height="1.51" fill="#e08535"/><rect x="480.00" y="75.54" width="29.00" height="1.51" fill="#d9792f"/><rect x="480.00" y="76.76" width="29.00" height="1.51" fill="#e7903b"/><rect x="480.00" y="77.97" width="29.00" height="1.51" fill="#da7a30"/><rect x="480.00" y="79.19" width="29.00" height="1.51" fill="#d9772f"/><rect x="510.00" y="54.90" width="30.00" height="1.51" fill="#e68e3a"/><rect x="510.00" y="56.11" width="30.00" height="1.51" fill="#f1ac53"/><rect x="510.00" y="57.33" width="30.00" height="1.51" fill="#f1ae56"/><rect x="510.00" y="58.54" width="30.00" height="1.51" fill="#f2b25c"/><rect x="510.00" y="59.76" width="30.00" height="1.51" fill="#ee9e42"/><rect x="510.00" y="60.97" width="30.00" height="1.51" fill="#f0a347"/><rect x="510.00" y="62.19" width="30.00" height="1.51" fill="#f6d48b"/><rect x="510.00" y="63.40" width="30.00" height="1.51" fill="#f5cb7e"/><rect x="510.00" y="64.61" width="30.00" height="1.51" fill="#ef9f42"/><rect x="510.00" y="65.83" width="30.00" height="1.51" fill="#f2b661"/><rect x="510.00" y="67.04" width="30.00" height="1.51" fill="#f6ce82"/><rect x="510.00" y="68.26" width="30.00" height="1.51" fill="#f4c373"/><rect x="510.00" y="69.47" width="30.00" height="1.51" fill="#e28837"/><rect x="510.00" y="70.69" width="30.00" height="1.51" fill="#e8933c"/><rect x="510.00" y="71.90" width="30.00" height="1.51" fill="#e8923c"/><rect x="510.00" y="73.11" width="30.00" height="1.51" fill="#f5c97c"/><rect x="510.00" y="74.33" width="30.00" height="1.51" fill="#f0a64b"/><rect x="510.00" y="75.54" width="30.00" height="1.51" fill="#f5c677"/><rect x="510.00" y="76.76" width="30.00" height="1.51" fill="#ef9e42"/><rect x="510.00" y="77.97" width="30.00" height="1.51" fill="#df8234"/><rect x="510.00" y="79.19" width="30.00" height="1.51" fill="#f4c474"/><rect x="540.00" y="54.90" width="29.30" height="1.51" fill="#dc7e32"/><rect x="540.00" y="56.11" width="29.30" height="1.51" fill="#e08535"/><rect x="540.00" y="57.33" width="29.30" height="1.51" fill="#e38a38"/><rect x="540.00" y="58.54" width="29.30" height="1.51" fill="#cb6627"/><rect x="540.00" y="59.76" width="29.30" height="1.51" fill="#d7742d"/><rect x="540.00" y="60.97" width="29.30" height="1.51" fill="#d7742d"/><rect x="540.00" y="62.19" width="29.30" height="1.51" fill="#ed9b40"/><rect x="540.00" y="63.40" width="29.30" height="1.51" fill="#e8933c"/><rect x="540.00" y="64.61" width="29.30" height="1.51" fill="#d46f2b"/><rect x="540.00" y="65.83" width="29.30" height="1.51" fill="#e08435"/><rect x="540.00" y="67.04" width="29.30" height="1.51" fill="#e7913c"/><rect x="540.00" y="68.26" width="29.30" height="1.51" fill="#e7913b"/><rect x="540.00" y="69.47" width="29.30" height="1.51" fill="#b85621"/><rect x="540.00" y="70.69" width="29.30" height="1.51" fill="#c35f24"/><rect x="540.00" y="71.90" width="29.30" height="1.51" fill="#c96426"/><rect x="540.00" y="73.11" width="29.30" height="1.51" fill="#e28737"/><rect x="540.00" y="74.33" width="29.30" height="1.51" fill="#e58d39"/><rect x="540.00" y="75.54" width="29.30" height="1.51" fill="#ee9d41"/><rect x="540.00" y="76.76" width="29.30" height="1.51" fill="#dc7e32"/><rect x="540.00" y="77.97" width="29.30" height="1.51" fill="#b55320"/><rect x="540.00" y="79.19" width="29.30" height="1.51" fill="#ec993f"/><rect x="569.30" y="54.90" width="29.70" height="1.51" fill="#bd5a22"/><rect x="569.30" y="56.11" width="29.70" height="1.51" fill="#d36d2a"/><rect x="569.30" y="57.33" width="29.70" height="1.51" fill="#cb6627"/><rect x="569.30" y="58.54" width="29.70" height="1.51" fill="#c76226"/><rect x="569.30" y="59.76" width="29.70" height="1.51" fill="#c76226"/><rect x="569.30" y="60.97" width="29.70" height="1.51" fill="#b04f1e"/><rect x="569.30" y="62.19" width="29.70" height="1.51" fill="#dd7e32"/><rect x="569.30" y="63.40" width="29.70" height="1.51" fill="#da7a30"/><rect x="569.30" y="64.61" width="29.70" height="1.51" fill="#b85621"/><rect x="569.30" y="65.83" width="29.70" height="1.51" fill="#d9782f"/><rect x="569.30" y="67.04" width="29.70" height="1.51" fill="#df8234"/><rect x="569.30" y="68.26" width="29.70" height="1.51" fill="#df8334"/><rect x="569.30" y="69.47" width="29.70" height="1.51" fill="#ac4c1d"/><rect x="569.30" y="70.69" width="29.70" height="1.51" fill="#d06b29"/><rect x="569.30" y="71.90" width="29.70" height="1.51" fill="#ba5721"/><rect x="569.30" y="73.11" width="29.70" height="1.51" fill="#d36d2a"/><rect x="569.30" y="74.33" width="29.70" height="1.51" fill="#c56125"/><rect x="569.30" y="75.54" width="29.70" height="1.51" fill="#d97930"/><rect x="569.30" y="76.76" width="29.70" height="1.51" fill="#b85521"/><rect x="569.30" y="77.97" width="29.70" height="1.51" fill="#b04f1e"/><rect x="569.30" y="79.19" width="29.70" height="1.51" fill="#dd8033"/><rect x="599.00" y="54.90" width="29.00" height="1.51" fill="#ca6527"/><rect x="599.00" y="56.11" width="29.00" height="1.51" fill="#d6722c"/><rect x="599.00" y="57.33" width="29.00" height="1.51" fill="#c15d24"/><rect x="599.00" y="58.54" width="29.00" height="1.51" fill="#c46025"/><rect x="599.00" y="59.76" width="29.00" height="1.51" fill="#d16c29"/><rect x="599.00" y="60.97" width="29.00" height="1.51" fill="#c86326"/><rect x="599.00" y="62.19" width="29.00" height="1.51" fill="#e7903b"/><rect x="599.00" y="63.40" width="29.00" height="1.51" fill="#e08335"/><rect x="599.00" y="64.61" width="29.00" height="1.51" fill="#cc6727"/><rect x="599.00" y="65.83" width="29.00" height="1.51" fill="#d8752e"/><rect x="599.00" y="67.04" width="29.00" height="1.51" fill="#e68f3a"/><rect x="599.00" y="68.26" width="29.00" height="1.51" fill="#dd7f32"/><rect x="599.00" y="69.47" width="29.00" height="1.51" fill="#ba5721"/><rect x="599.00" y="70.69" width="29.00" height="1.51" fill="#d16b29"/><rect x="599.00" y="71.90" width="29.00" height="1.51" fill="#a8481b"/><rect x="599.00" y="73.11" width="29.00" height="1.51" fill="#db7b30"/><rect x="599.00" y="74.33" width="29.00" height="1.51" fill="#db7b31"/><rect x="599.00" y="75.54" width="29.00" height="1.51" fill="#e08435"/><rect x="599.00" y="76.76" width="29.00" height="1.51" fill="#bb5822"/><rect x="599.00" y="77.97" width="29.00" height="1.51" fill="#f2b25c"/><rect x="599.00" y="79.19" width="29.00" height="1.51" fill="#f2b15a"/><rect x="449.00" y="81.70" width="29.80" height="1.54" fill="#f6e7bd"/><rect x="449.00" y="82.94" width="29.80" height="1.54" fill="#f6e4b7"/><rect x="449.00" y="84.17" width="29.80" height="1.54" fill="#f6e6bc"/><rect x="449.00" y="85.41" width="29.80" height="1.54" fill="#f6eccc"/><rect x="449.00" y="86.64" width="29.80" height="1.54" fill="#f4c06f"/><rect x="449.00" y="87.88" width="29.80" height="1.54" fill="#f6e4b6"/><rect x="449.00" y="89.11" width="29.80" height="1.54" fill="#f6e9c2"/><rect x="449.00" y="90.35" width="29.80" height="1.54" fill="#f5c576"/><rect x="449.00" y="91.58" width="29.80" height="1.54" fill="#f6e9c4"/><rect x="449.00" y="92.82" width="29.80" height="1.54" fill="#f6eac6"/><rect x="449.00" y="94.05" width="29.80" height="1.54" fill="#f6eac7"/><rect x="449.00" y="95.29" width="29.80" height="1.54" fill="#f6edcf"/><rect x="449.00" y="96.52" width="29.80" height="1.54" fill="#f6e9c4"/><rect x="449.00" y="97.76" width="29.80" height="1.54" fill="#f6eac7"/><rect x="449.00" y="98.99" width="29.80" height="1.54" fill="#f6e8c2"/><rect x="449.00" y="100.23" width="29.80" height="1.54" fill="#f6e4b5"/><rect x="449.00" y="101.46" width="29.80" height="1.54" fill="#f6e4b5"/><rect x="480.00" y="81.70" width="29.00" height="1.54" fill="#f6e8c2"/><rect x="480.00" y="82.94" width="29.00" height="1.54" fill="#f6e7bf"/><rect x="480.00" y="84.17" width="29.00" height="1.54" fill="#f6e9c3"/><rect x="480.00" y="85.41" width="29.00" height="1.54" fill="#f6e4b5"/><rect x="480.00" y="86.64" width="29.00" height="1.54" fill="#f6e7bf"/><rect x="480.00" y="87.88" width="29.00" height="1.54" fill="#f6e8c1"/><rect x="480.00" y="89.11" width="29.00" height="1.54" fill="#f6e6bc"/><rect x="480.00" y="90.35" width="29.00" height="1.54" fill="#f6e3b2"/><rect x="480.00" y="91.58" width="29.00" height="1.54" fill="#f6e3b4"/><rect x="480.00" y="92.82" width="29.00" height="1.54" fill="#f6e7bf"/><rect x="480.00" y="94.05" width="29.00" height="1.54" fill="#f6e8c1"/><rect x="480.00" y="95.29" width="29.00" height="1.54" fill="#f6e3b2"/><rect x="480.00" y="96.52" width="29.00" height="1.54" fill="#f6e5b9"/><rect x="480.00" y="97.76" width="29.00" height="1.54" fill="#f6e4b6"/><rect x="480.00" y="98.99" width="29.00" height="1.54" fill="#f6e9c2"/><rect x="480.00" y="100.23" width="29.00" height="1.54" fill="#f6e9c3"/><rect x="480.00" y="101.46" width="29.00" height="1.54" fill="#f6e4b7"/><rect x="510.00" y="81.70" width="30.00" height="1.54" fill="#f6d691"/><rect x="510.00" y="82.94" width="30.00" height="1.54" fill="#f6dea5"/><rect x="510.00" y="84.17" width="30.00" height="1.54" fill="#f5c677"/><rect x="510.00" y="85.41" width="30.00" height="1.54" fill="#f6d186"/><rect x="510.00" y="86.64" width="30.00" height="1.54" fill="#f5cb7e"/><rect x="510.00" y="87.88" width="30.00" height="1.54" fill="#f6dda4"/><rect x="510.00" y="89.11" width="30.00" height="1.54" fill="#f5c97b"/><rect x="510.00" y="90.35" width="30.00" height="1.54" fill="#f6dea5"/><rect x="510.00" y="91.58" width="30.00" height="1.54" fill="#f5c97b"/><rect x="510.00" y="92.82" width="30.00" height="1.54" fill="#f6d690"/><rect x="510.00" y="94.05" width="30.00" height="1.54" fill="#f6d896"/><rect x="510.00" y="95.29" width="30.00" height="1.54" fill="#f6d48b"/><rect x="510.00" y="96.52" width="30.00" height="1.54" fill="#f5c778"/><rect x="510.00" y="97.76" width="30.00" height="1.54" fill="#f6da9a"/><rect x="510.00" y="98.99" width="30.00" height="1.54" fill="#f6dca2"/><rect x="510.00" y="100.23" width="30.00" height="1.54" fill="#f6d48c"/><rect x="510.00" y="101.46" width="30.00" height="1.54" fill="#f6da9c"/><rect x="540.00" y="81.70" width="29.30" height="1.54" fill="#f2b15a"/><rect x="540.00" y="82.94" width="29.30" height="1.54" fill="#f2af58"/><rect x="540.00" y="84.17" width="29.30" height="1.54" fill="#f2b35d"/><rect x="540.00" y="85.41" width="29.30" height="1.54" fill="#f1ae56"/><rect x="540.00" y="86.64" width="29.30" height="1.54" fill="#f1ab52"/><rect x="540.00" y="87.88" width="29.30" height="1.54" fill="#f1ab52"/><rect x="540.00" y="89.11" width="29.30" height="1.54" fill="#ee9d41"/><rect x="540.00" y="90.35" width="29.30" height="1.54" fill="#f1ab53"/><rect x="540.00" y="91.58" width="29.30" height="1.54" fill="#f0a54a"/><rect x="540.00" y="92.82" width="29.30" height="1.54" fill="#f2af57"/><rect x="540.00" y="94.05" width="29.30" height="1.54" fill="#f1a950"/><rect x="540.00" y="95.29" width="29.30" height="1.54" fill="#f2b45e"/><rect x="540.00" y="96.52" width="29.30" height="1.54" fill="#f1ac54"/><rect x="540.00" y="97.76" width="29.30" height="1.54" fill="#f2b45e"/><rect x="540.00" y="98.99" width="29.30" height="1.54" fill="#ee9d42"/><rect x="540.00" y="100.23" width="29.30" height="1.54" fill="#f0a347"/><rect x="540.00" y="101.46" width="29.30" height="1.54" fill="#f2ae57"/><rect x="569.30" y="81.70" width="29.70" height="1.54" fill="#de8033"/><rect x="569.30" y="82.94" width="29.70" height="1.54" fill="#d8762e"/><rect x="569.30" y="84.17" width="29.70" height="1.54" fill="#e38937"/><rect x="569.30" y="85.41" width="29.70" height="1.54" fill="#d9782f"/><rect x="569.30" y="86.64" width="29.70" height="1.54" fill="#de8134"/><rect x="569.30" y="87.88" width="29.70" height="1.54" fill="#dd8033"/><rect x="569.30" y="89.11" width="29.70" height="1.54" fill="#d9782f"/><rect x="569.30" y="90.35" width="29.70" height="1.54" fill="#df8234"/><rect x="569.30" y="91.58" width="29.70" height="1.54" fill="#dd7f33"/><rect x="569.30" y="92.82" width="29.70" height="1.54" fill="#db7b31"/><rect x="569.30" y="94.05" width="29.70" height="1.54" fill="#d7752d"/><rect x="569.30" y="95.29" width="29.70" height="1.54" fill="#df8335"/><rect x="569.30" y="96.52" width="29.70" height="1.54" fill="#d9782f"/><rect x="569.30" y="97.76" width="29.70" height="1.54" fill="#db7b31"/><rect x="569.30" y="98.99" width="29.70" height="1.54" fill="#dc7d31"/><rect x="569.30" y="100.23" width="29.70" height="1.54" fill="#df8234"/><rect x="569.30" y="101.46" width="29.70" height="1.54" fill="#df8335"/><rect x="599.00" y="81.70" width="29.00" height="1.54" fill="#dd8033"/><rect x="599.00" y="82.94" width="29.00" height="1.54" fill="#dc7e32"/><rect x="599.00" y="84.17" width="29.00" height="1.54" fill="#dd7f33"/><rect x="599.00" y="85.41" width="29.00" height="1.54" fill="#d4702b"/><rect x="599.00" y="86.64" width="29.00" height="1.54" fill="#db7b31"/><rect x="599.00" y="87.88" width="29.00" height="1.54" fill="#dc7d32"/><rect x="599.00" y="89.11" width="29.00" height="1.54" fill="#dd7f33"/><rect x="599.00" y="90.35" width="29.00" height="1.54" fill="#d36e2a"/><rect x="599.00" y="91.58" width="29.00" height="1.54" fill="#d36d2a"/><rect x="599.00" y="92.82" width="29.00" height="1.54" fill="#d5722c"/><rect x="599.00" y="94.05" width="29.00" height="1.54" fill="#da7a30"/><rect x="599.00" y="95.29" width="29.00" height="1.54" fill="#db7b31"/><rect x="599.00" y="96.52" width="29.00" height="1.54" fill="#da7a30"/><rect x="599.00" y="97.76" width="29.00" height="1.54" fill="#d8762e"/><rect x="599.00" y="98.99" width="29.00" height="1.54" fill="#dc7d32"/><rect x="599.00" y="100.23" width="29.00" height="1.54" fill="#d8772e"/><rect x="599.00" y="101.46" width="29.00" height="1.54" fill="#db7b31"/><text x="438.50" y="32.40" font-size="9" text-anchor="end" font-weight="normal" fill="#222" >GS</text><text x="438.50" y="69.60" font-size="9" text-anchor="end" font-weight="normal" fill="#222" >GZ</text><text x="438.50" y="94.60" font-size="9" text-anchor="end" font-weight="normal" fill="#222" >ZS</text><text transform="translate(447.0,104.8) rotate(-90)" font-size="8.1" text-anchor="end" fill="#222">Category</text><text transform="translate(464.5,104.8) rotate(-90)" font-size="8.1" text-anchor="end" fill="#222">Egg</text><text transform="translate(497.1,104.8) rotate(-90)" font-size="8.1" text-anchor="end" fill="#222">Spermatid</text><text transform="translate(527.0,104.8) rotate(-90)" font-size="8.1" text-anchor="end" fill="#222">6hpf</text><text transform="translate(557.5,104.8) rotate(-90)" font-size="8.1" text-anchor="end" fill="#222">7hpf</text><text transform="translate(587.0,104.8) rotate(-90)" font-size="8.1" text-anchor="end" fill="#222">8hpf</text><text transform="translate(616.0,104.8) rotate(-90)" font-size="8.1" text-anchor="end" fill="#222">9hpf</text><line x1="515" y1="123.3" x2="624" y2="123.3" stroke="#333" stroke-width="1.3"/><text x="570.00" y="132.50" font-size="8.7" text-anchor="middle" font-weight="normal" fill="#222" >ZGA</text><text x="636.00" y="14.90" font-size="8.7" text-anchor="start" font-weight="normal" fill="#222" >TPM [log<tspan font-size="6" dy="1.5">2</tspan><tspan dy="-1.5">]</tspan></text><defs><linearGradient id="tpmg" x1="0" y1="1" x2="0" y2="0"><stop offset="0.0" stop-color="#f6f1d8"/><stop offset="0.25" stop-color="#f7d48a"/><stop offset="0.5" stop-color="#f0a043"/><stop offset="0.75" stop-color="#d36d2a"/><stop offset="1.0" stop-color="#9a3c17"/></linearGradient></defs><rect x="635.5" y="19" width="6.5" height="35" fill="url(#tpmg)"/><line x1="640.5" y1="20.3" x2="642" y2="20.3" stroke="#fff" stroke-width="0.6"/><text x="643.30" y="23.30" font-size="8.7" text-anchor="start" font-weight="normal" fill="#222" >8</text><line x1="640.5" y1="28.200000000000003" x2="642" y2="28.200000000000003" stroke="#fff" stroke-width="0.6"/><text x="643.30" y="31.20" font-size="8.7" text-anchor="start" font-weight="normal" fill="#222" >6</text><line x1="640.5" y1="36.1" x2="642" y2="36.1" stroke="#fff" stroke-width="0.6"/><text x="643.30" y="39.10" font-size="8.7" text-anchor="start" font-weight="normal" fill="#222" >4</text><line x1="640.5" y1="44.0" x2="642" y2="44.0" stroke="#fff" stroke-width="0.6"/><text x="643.30" y="47.00" font-size="8.7" text-anchor="start" font-weight="normal" fill="#222" >2</text><line x1="640.5" y1="51.900000000000006" x2="642" y2="51.900000000000006" stroke="#fff" stroke-width="0.6"/><text x="643.30" y="54.90" font-size="8.7" text-anchor="start" font-weight="normal" fill="#222" >0</text><text x="0.00" y="148.00" font-size="12.5" text-anchor="start" font-weight="bold" fill="#111" >d</text><text x="40.70" y="143.40" font-size="9.2" text-anchor="start" font-weight="normal" fill="#222" >RNA</text><rect x="68.2" y="137.6" width="6.6" height="5.8" fill="#16988a" stroke="#222" stroke-width="0.7"/><text x="77.80" y="143.20" font-size="8" text-anchor="start" font-weight="normal" fill="#222" >GS</text><rect x="97.60000000000001" y="137.6" width="6.6" height="5.8" fill="#ec7a35" stroke="#222" stroke-width="0.7"/><text x="107.20" y="143.20" font-size="8" text-anchor="start" font-weight="normal" fill="#222" >GZ</text><rect x="129.1" y="137.6" width="6.6" height="5.8" fill="#6c9fd6" stroke="#222" stroke-width="0.7"/><text x="138.70" y="143.20" font-size="8" text-anchor="start" font-weight="normal" fill="#222" >ZS</text><rect x="155.4" y="137.6" width="6.6" height="5.8" fill="#5a5a5a" stroke="#222" stroke-width="0.7"/><text x="165.00" y="143.20" font-size="8" text-anchor="start" font-weight="normal" fill="#222" >ND</text><text transform="translate(19,212) rotate(-90)" font-size="8.3" text-anchor="middle" fill="#333">Mean H3K4me3 intensity</text><text transform="translate(28.5,212) rotate(-90)" font-size="8.3" text-anchor="middle" fill="#333">[log<tspan font-size="5.5" dy="1.3">2</tspan><tspan dy="-1.3">]</tspan></text><line x1="43.2" y1="167.3" x2="43.2" y2="259.3" stroke="#111" stroke-width="1.2"/><line x1="42.6" y1="259.3" x2="192.7" y2="259.3" stroke="#111" stroke-width="1.2"/><line x1="41.2" y1="181.3" x2="43.2" y2="181.3" stroke="#333" stroke-width="0.6"/><text x="39.40" y="184.30" font-size="8.2" text-anchor="end" font-weight="normal" fill="#333" >6</text><line x1="41.2" y1="210.2" x2="43.2" y2="210.2" stroke="#333" stroke-width="0.6"/><text x="39.40" y="213.20" font-size="8.2" text-anchor="end" font-weight="normal" fill="#333" >4</text><line x1="41.2" y1="238.8" x2="43.2" y2="238.8" stroke="#333" stroke-width="0.6"/><text x="39.40" y="241.80" font-size="8.2" text-anchor="end" font-weight="normal" fill="#333" >2</text><path d="M43.20,254.79 L44.50,254.70 L45.80,254.68 L47.10,254.45 L48.40,254.35 L49.70,254.26 L51.00,254.05 L52.30,254.02 L53.60,253.94 L54.90,253.88 L56.20,253.59 L57.50,253.53 L58.80,253.37 L60.10,253.44 L61.40,253.30 L62.70,253.02 L64.00,253.15 L65.30,253.03 L66.60,252.83 L67.90,252.71 L69.20,252.47 L70.50,252.31 L71.80,252.32 L73.10,252.08 L74.40,251.98 L75.70,251.86 L77.00,251.68 L78.30,251.65 L79.60,251.50 L80.90,251.45 L82.20,251.22 L83.50,251.10 L84.80,250.91 L86.10,250.80 L87.40,250.59 L88.70,250.39 L90.00,250.41 L91.30,250.25 L92.60,250.06 L93.90,249.87 L95.20,249.62 L96.50,249.45 L97.80,249.32 L99.10,249.12 L100.40,249.15 L101.70,248.92 L103.00,248.90 L104.30,248.66 L105.60,248.68 L106.90,248.51 L108.20,248.16 L109.50,248.07 L110.80,248.10 L112.10,247.84 L113.40,247.83 L114.70,247.55 L116.00,247.34 L117.30,247.37 L118.60,247.30 L119.90,247.08 L121.20,246.96 L122.50,246.97 L123.80,247.09 L125.10,247.03 L126.40,246.89 L127.70,246.96 L129.00,246.98 L130.30,247.04 L131.60,247.31 L132.90,247.25 L134.20,247.45 L135.50,247.54 L136.80,247.60 L138.10,247.87 L139.40,247.86 L140.70,248.14 L142.00,248.16 L143.30,248.40 L144.60,248.51 L145.90,248.69 L147.20,249.04 L148.50,249.16 L149.80,249.21 L151.10,249.52 L152.40,249.52 L153.70,249.74 L155.00,250.01 L156.30,250.12 L157.60,250.14 L158.90,250.50 L160.20,250.45 L161.50,250.60 L162.80,250.86 L164.10,250.89 L165.40,251.02 L166.70,251.10 L168.00,251.23 L169.30,251.49 L170.60,251.54 L171.90,251.77 L173.20,251.85 L174.50,252.00 L175.80,252.26 L177.10,252.28 L178.40,252.44 L179.70,252.64 L181.00,252.61 L182.30,252.73 L183.60,253.06 L184.90,253.17 L186.20,253.16 L187.50,253.28 L188.80,253.55 L190.10,253.74 L191.40,253.69 L192.70,253.88" fill="none" stroke="#6b6b6b" stroke-width="3.0" stroke-linejoin="round" stroke-linecap="butt"/><path d="M43.20,251.57 L44.50,251.68 L45.80,251.60 L47.10,250.89 L48.40,250.66 L49.70,251.02 L51.00,250.83 L52.30,251.40 L53.60,251.18 L54.90,250.98 L56.20,250.82 L57.50,250.82 L58.80,250.05 L60.10,250.22 L61.40,249.68 L62.70,250.33 L64.00,249.03 L65.30,249.64 L66.60,248.42 L67.90,248.81 L69.20,248.03 L70.50,247.73 L71.80,247.86 L73.10,246.47 L74.40,246.11 L75.70,246.72 L77.00,245.81 L78.30,244.88 L79.60,245.54 L80.90,245.07 L82.20,243.66 L83.50,243.62 L84.80,242.88 L86.10,242.72 L87.40,242.72 L88.70,241.82 L90.00,242.13 L91.30,241.06 L92.60,240.93 L93.90,241.47 L95.20,240.75 L96.50,240.58 L97.80,240.62 L99.10,240.30 L100.40,240.02 L101.70,239.43 L103.00,240.09 L104.30,240.19 L105.60,239.99 L106.90,239.39 L108.20,238.76 L109.50,238.47 L110.80,238.50 L112.10,238.07 L113.40,236.94 L114.70,236.60 L116.00,236.26 L117.30,235.94 L118.60,235.80 L119.90,234.96 L121.20,233.96 L122.50,234.52 L123.80,233.72 L125.10,233.57 L126.40,233.04 L127.70,233.21 L129.00,233.19 L130.30,233.73 L131.60,233.06 L132.90,233.78 L134.20,233.55 L135.50,234.43 L136.80,233.94 L138.10,234.54 L139.40,234.97 L140.70,235.69 L142.00,235.37 L143.30,236.25 L144.60,236.35 L145.90,236.83 L147.20,237.47 L148.50,238.44 L149.80,238.24 L151.10,239.18 L152.40,238.58 L153.70,239.80 L155.00,239.42 L156.30,239.49 L157.60,240.43 L158.90,240.90 L160.20,240.07 L161.50,240.64 L162.80,241.49 L164.10,241.23 L165.40,241.35 L166.70,241.32 L168.00,241.61 L169.30,242.55 L170.60,243.25 L171.90,243.52 L173.20,243.19 L174.50,242.88 L175.80,243.52 L177.10,244.36 L178.40,244.70 L179.70,244.78 L181.00,244.60 L182.30,245.29 L183.60,245.56 L184.90,246.09 L186.20,245.99 L187.50,247.16 L188.80,247.45 L190.10,246.92 L191.40,247.41 L192.70,248.11" fill="none" stroke="#6c9fd6" stroke-width="4" stroke-linejoin="round" stroke-linecap="butt"/><path d="M43.20,251.41 L44.50,251.23 L45.80,250.74 L47.10,250.39 L48.40,249.38 L49.70,248.95 L51.00,248.43 L52.30,248.03 L53.60,247.98 L54.90,247.03 L56.20,246.87 L57.50,246.13 L58.80,245.68 L60.10,245.27 L61.40,245.05 L62.70,244.29 L64.00,243.21 L65.30,242.78 L66.60,242.01 L67.90,241.87 L69.20,241.05 L70.50,240.22 L71.80,239.36 L73.10,238.37 L74.40,237.57 L75.70,236.44 L77.00,234.99 L78.30,234.42 L79.60,233.07 L80.90,232.21 L82.20,230.99 L83.50,229.81 L84.80,228.70 L86.10,227.70 L87.40,226.52 L88.70,225.21 L90.00,224.58 L91.30,223.35 L92.60,222.27 L93.90,220.82 L95.20,219.51 L96.50,218.51 L97.80,216.92 L99.10,216.33 L100.40,215.21 L101.70,214.16 L103.00,213.51 L104.30,213.32 L105.60,212.82 L106.90,212.82 L108.20,212.84 L109.50,212.59 L110.80,212.25 L112.10,212.32 L113.40,211.75 L114.70,211.25 L116.00,210.63 L117.30,210.10 L118.60,209.15 L119.90,208.88 L121.20,208.40 L122.50,207.25 L123.80,206.86 L125.10,206.46 L126.40,205.29 L127.70,205.03 L129.00,205.37 L130.30,205.37 L131.60,205.30 L132.90,205.13 L134.20,205.64 L135.50,206.40 L136.80,206.88 L138.10,207.35 L139.40,207.46 L140.70,208.61 L142.00,208.89 L143.30,209.85 L144.60,210.08 L145.90,211.45 L147.20,211.89 L148.50,212.76 L149.80,213.17 L151.10,214.34 L152.40,215.20 L153.70,216.11 L155.00,216.85 L156.30,218.09 L157.60,218.73 L158.90,219.65 L160.20,220.51 L161.50,221.88 L162.80,222.37 L164.10,223.40 L165.40,224.24 L166.70,225.72 L168.00,226.69 L169.30,227.74 L170.60,228.40 L171.90,229.76 L173.20,230.70 L174.50,231.47 L175.80,232.32 L177.10,233.96 L178.40,234.02 L179.70,234.86 L181.00,235.49 L182.30,236.36 L183.60,236.51 L184.90,237.37 L186.20,237.82 L187.50,238.71 L188.80,238.57 L190.10,239.36 L191.40,240.03 L192.70,240.41" fill="none" stroke="#16988a" stroke-width="4" stroke-linejoin="round" stroke-linecap="butt"/><path d="M43.20,240.29 L44.50,240.38 L45.80,240.00 L47.10,239.92 L48.40,239.06 L49.70,238.69 L51.00,238.65 L52.30,238.07 L53.60,237.15 L54.90,236.72 L56.20,235.70 L57.50,235.18 L58.80,233.80 L60.10,232.99 L61.40,232.61 L62.70,231.22 L64.00,230.16 L65.30,229.59 L66.60,228.42 L67.90,226.99 L69.20,226.24 L70.50,225.24 L71.80,223.73 L73.10,222.97 L74.40,221.36 L75.70,220.29 L77.00,218.78 L78.30,217.51 L79.60,216.69 L80.90,214.71 L82.20,213.56 L83.50,211.38 L84.80,209.69 L86.10,208.00 L87.40,205.91 L88.70,203.48 L90.00,201.91 L91.30,200.02 L92.60,197.78 L93.90,195.92 L95.20,194.85 L96.50,192.91 L97.80,191.04 L99.10,189.71 L100.40,188.10 L101.70,187.30 L103.00,185.99 L104.30,184.83 L105.60,184.93 L106.90,184.22 L108.20,184.47 L109.50,184.44 L110.80,185.12 L112.10,184.55 L113.40,184.48 L114.70,183.43 L116.00,182.87 L117.30,182.03 L118.60,180.82 L119.90,179.63 L121.20,178.53 L122.50,177.43 L123.80,176.59 L125.10,175.37 L126.40,175.05 L127.70,174.47 L129.00,174.87 L130.30,175.14 L131.60,174.93 L132.90,175.68 L134.20,176.97 L135.50,177.81 L136.80,178.36 L138.10,179.89 L139.40,181.00 L140.70,181.38 L142.00,182.00 L143.30,182.80 L144.60,183.68 L145.90,183.72 L147.20,184.33 L148.50,184.85 L149.80,185.86 L151.10,186.47 L152.40,187.13 L153.70,188.18 L155.00,188.98 L156.30,190.46 L157.60,192.40 L158.90,193.60 L160.20,194.96 L161.50,197.14 L162.80,198.35 L164.10,199.93 L165.40,201.37 L166.70,202.99 L168.00,204.45 L169.30,205.77 L170.60,207.52 L171.90,208.21 L173.20,209.32 L174.50,210.70 L175.80,212.01 L177.10,212.54 L178.40,213.94 L179.70,214.63 L181.00,215.79 L182.30,216.83 L183.60,218.10 L184.90,218.90 L186.20,219.62 L187.50,220.79 L188.80,221.30 L190.10,222.20 L191.40,223.56 L192.70,223.23" fill="none" stroke="#ec7a35" stroke-width="4" stroke-linejoin="round" stroke-linecap="butt"/><text x="117.95" y="268.20" font-size="8.2" text-anchor="middle" font-weight="normal" fill="#222" >+/−1kb of TSS</text><text x="42.7" y="161.4" font-size="11" fill="#111"><tspan font-weight="bold">H3K4me3</tspan> (Spermatid)</text><line x1="206.5" y1="167" x2="206.5" y2="258.9" stroke="#111" stroke-width="1.2"/><line x1="205.9" y1="258.9" x2="357" y2="258.9" stroke="#111" stroke-width="1.2"/><line x1="204.5" y1="167.8" x2="206.5" y2="167.8" stroke="#333" stroke-width="0.6"/><text x="203.00" y="170.80" font-size="8.2" text-anchor="end" font-weight="normal" fill="#333" >6</text><line x1="204.5" y1="184.6" x2="206.5" y2="184.6" stroke="#333" stroke-width="0.6"/><text x="203.00" y="187.60" font-size="8.2" text-anchor="end" font-weight="normal" fill="#333" >5</text><line x1="204.5" y1="201" x2="206.5" y2="201" stroke="#333" stroke-width="0.6"/><text x="203.00" y="204.00" font-size="8.2" text-anchor="end" font-weight="normal" fill="#333" >4</text><line x1="204.5" y1="217.3" x2="206.5" y2="217.3" stroke="#333" stroke-width="0.6"/><text x="203.00" y="220.30" font-size="8.2" text-anchor="end" font-weight="normal" fill="#333" >3</text><line x1="204.5" y1="233.8" x2="206.5" y2="233.8" stroke="#333" stroke-width="0.6"/><text x="203.00" y="236.80" font-size="8.2" text-anchor="end" font-weight="normal" fill="#333" >2</text><line x1="204.5" y1="250.3" x2="206.5" y2="250.3" stroke="#333" stroke-width="0.6"/><text x="203.00" y="253.30" font-size="8.2" text-anchor="end" font-weight="normal" fill="#333" >1</text><path d="M206.50,255.42 L207.80,255.43 L209.10,255.31 L210.40,255.16 L211.70,254.98 L213.00,255.02 L214.30,254.92 L215.60,254.74 L216.90,254.64 L218.20,254.46 L219.50,254.30 L220.80,254.29 L222.10,254.24 L223.40,254.00 L224.70,254.08 L226.00,253.83 L227.30,253.71 L228.60,253.55 L229.90,253.67 L231.20,253.49 L232.50,253.40 L233.80,253.21 L235.10,252.93 L236.40,252.86 L237.70,252.76 L239.00,252.52 L240.30,252.58 L241.60,252.27 L242.90,252.03 L244.20,252.01 L245.50,251.64 L246.80,251.63 L248.10,251.29 L249.40,251.09 L250.70,250.81 L252.00,250.62 L253.30,250.31 L254.60,250.05 L255.90,250.02 L257.20,249.64 L258.50,249.55 L259.80,249.20 L261.10,249.18 L262.40,248.96 L263.70,248.74 L265.00,248.56 L266.30,248.35 L267.60,248.24 L268.90,247.96 L270.20,247.94 L271.50,248.00 L272.80,247.87 L274.10,248.13 L275.40,248.24 L276.70,248.25 L278.00,248.37 L279.30,248.52 L280.60,248.60 L281.90,248.82 L283.20,248.67 L284.50,248.51 L285.80,248.39 L287.10,248.36 L288.40,248.22 L289.70,247.89 L291.00,247.70 L292.30,247.58 L293.60,247.55 L294.90,247.44 L296.20,247.60 L297.50,247.66 L298.80,247.76 L300.10,247.75 L301.40,247.85 L302.70,248.00 L304.00,248.27 L305.30,248.25 L306.60,248.44 L307.90,248.51 L309.20,248.60 L310.50,248.73 L311.80,249.07 L313.10,249.21 L314.40,249.26 L315.70,249.49 L317.00,249.64 L318.30,249.85 L319.60,250.02 L320.90,250.03 L322.20,250.32 L323.50,250.46 L324.80,250.50 L326.10,250.71 L327.40,250.75 L328.70,250.86 L330.00,250.97 L331.30,251.26 L332.60,251.22 L333.90,251.34 L335.20,251.67 L336.50,251.80 L337.80,251.87 L339.10,252.10 L340.40,252.05 L341.70,252.25 L343.00,252.40 L344.30,252.58 L345.60,252.66 L346.90,252.78 L348.20,252.99 L349.50,253.27 L350.80,253.44 L352.10,253.52 L353.40,253.60 L354.70,253.69 L356.00,254.01" fill="none" stroke="#6b6b6b" stroke-width="3.0" stroke-linejoin="round" stroke-linecap="butt"/><path d="M206.50,248.05 L207.80,246.95 L209.10,246.70 L210.40,247.76 L211.70,246.69 L213.00,246.52 L214.30,247.06 L215.60,246.60 L216.90,247.16 L218.20,246.27 L219.50,247.04 L220.80,246.16 L222.10,246.39 L223.40,246.66 L224.70,246.22 L226.00,246.36 L227.30,245.93 L228.60,244.96 L229.90,245.76 L231.20,245.18 L232.50,244.58 L233.80,244.12 L235.10,244.56 L236.40,243.86 L237.70,243.89 L239.00,243.27 L240.30,243.07 L241.60,242.17 L242.90,241.90 L244.20,241.38 L245.50,240.55 L246.80,240.95 L248.10,239.69 L249.40,239.74 L250.70,239.43 L252.00,238.55 L253.30,237.43 L254.60,237.79 L255.90,237.18 L257.20,236.24 L258.50,235.80 L259.80,236.18 L261.10,235.52 L262.40,236.70 L263.70,236.45 L265.00,236.83 L266.30,237.12 L267.60,237.87 L268.90,238.60 L270.20,238.24 L271.50,238.58 L272.80,238.95 L274.10,238.54 L275.40,238.66 L276.70,238.21 L278.00,237.59 L279.30,237.30 L280.60,236.49 L281.90,235.29 L283.20,235.71 L284.50,234.30 L285.80,233.79 L287.10,233.23 L288.40,233.45 L289.70,233.19 L291.00,232.49 L292.30,232.25 L293.60,231.81 L294.90,232.75 L296.20,231.89 L297.50,232.38 L298.80,232.22 L300.10,232.30 L301.40,232.46 L302.70,232.40 L304.00,232.37 L305.30,233.13 L306.60,233.62 L307.90,233.61 L309.20,233.25 L310.50,234.01 L311.80,233.40 L313.10,234.01 L314.40,234.69 L315.70,235.00 L317.00,234.65 L318.30,235.33 L319.60,235.13 L320.90,235.38 L322.20,235.69 L323.50,236.41 L324.80,236.36 L326.10,236.29 L327.40,236.84 L328.70,237.00 L330.00,236.91 L331.30,237.69 L332.60,238.00 L333.90,238.02 L335.20,238.69 L336.50,237.85 L337.80,238.71 L339.10,239.16 L340.40,239.10 L341.70,239.20 L343.00,240.14 L344.30,240.15 L345.60,240.27 L346.90,240.32 L348.20,241.76 L349.50,241.35 L350.80,241.40 L352.10,241.85 L353.40,242.22 L354.70,243.28 L356.00,242.77" fill="none" stroke="#6c9fd6" stroke-width="4" stroke-linejoin="round" stroke-linecap="butt"/><path d="M206.50,245.54 L207.80,245.11 L209.10,244.65 L210.40,243.61 L211.70,243.63 L213.00,243.12 L214.30,242.82 L215.60,242.12 L216.90,241.77 L218.20,241.55 L219.50,240.93 L220.80,240.64 L222.10,239.78 L223.40,239.26 L224.70,239.14 L226.00,238.24 L227.30,237.56 L228.60,236.91 L229.90,235.72 L231.20,234.54 L232.50,234.13 L233.80,232.95 L235.10,231.96 L236.40,230.87 L237.70,230.08 L239.00,228.53 L240.30,227.81 L241.60,226.48 L242.90,225.66 L244.20,224.80 L245.50,223.61 L246.80,222.51 L248.10,221.89 L249.40,221.15 L250.70,220.11 L252.00,219.06 L253.30,218.29 L254.60,217.01 L255.90,216.10 L257.20,215.34 L258.50,214.87 L259.80,213.54 L261.10,212.67 L262.40,211.88 L263.70,211.10 L265.00,210.59 L266.30,210.18 L267.60,209.79 L268.90,209.01 L270.20,208.86 L271.50,208.76 L272.80,208.84 L274.10,209.32 L275.40,209.23 L276.70,209.02 L278.00,208.79 L279.30,209.06 L280.60,208.59 L281.90,208.18 L283.20,207.15 L284.50,206.79 L285.80,206.50 L287.10,205.68 L288.40,205.47 L289.70,204.47 L291.00,204.86 L292.30,204.04 L293.60,204.39 L294.90,204.19 L296.20,205.00 L297.50,205.14 L298.80,205.66 L300.10,205.86 L301.40,206.36 L302.70,206.46 L304.00,207.28 L305.30,207.58 L306.60,207.78 L307.90,208.83 L309.20,208.92 L310.50,209.36 L311.80,209.89 L313.10,210.88 L314.40,211.40 L315.70,212.77 L317.00,213.60 L318.30,213.86 L319.60,214.64 L320.90,215.86 L322.20,216.47 L323.50,217.66 L324.80,218.75 L326.10,219.17 L327.40,220.15 L328.70,221.34 L330.00,221.76 L331.30,222.45 L332.60,223.66 L333.90,224.37 L335.20,225.20 L336.50,225.78 L337.80,226.31 L339.10,227.27 L340.40,228.10 L341.70,228.67 L343.00,229.04 L344.30,229.77 L345.60,230.53 L346.90,231.45 L348.20,231.88 L349.50,232.46 L350.80,233.24 L352.10,233.21 L353.40,234.17 L354.70,234.48 L356.00,235.21" fill="none" stroke="#16988a" stroke-width="4" stroke-linejoin="round" stroke-linecap="butt"/><path d="M206.50,233.47 L207.80,232.92 L209.10,231.77 L210.40,231.82 L211.70,230.56 L213.00,230.30 L214.30,229.15 L215.60,228.95 L216.90,227.66 L218.20,227.23 L219.50,226.34 L220.80,225.43 L222.10,224.20 L223.40,223.55 L224.70,222.64 L226.00,220.92 L227.30,220.22 L228.60,219.55 L229.90,218.36 L231.20,217.12 L232.50,216.07 L233.80,215.67 L235.10,214.06 L236.40,213.67 L237.70,212.75 L239.00,211.13 L240.30,210.10 L241.60,208.78 L242.90,207.49 L244.20,205.65 L245.50,204.22 L246.80,202.29 L248.10,199.80 L249.40,198.28 L250.70,195.69 L252.00,193.91 L253.30,192.75 L254.60,191.37 L255.90,189.93 L257.20,188.67 L258.50,187.24 L259.80,185.54 L261.10,184.80 L262.40,183.97 L263.70,182.48 L265.00,182.15 L266.30,181.45 L267.60,181.21 L268.90,181.40 L270.20,181.60 L271.50,181.95 L272.80,181.41 L274.10,181.83 L275.40,182.29 L276.70,182.06 L278.00,181.68 L279.30,181.06 L280.60,180.75 L281.90,179.68 L283.20,179.09 L284.50,178.15 L285.80,177.01 L287.10,176.46 L288.40,175.41 L289.70,174.91 L291.00,174.89 L292.30,174.34 L293.60,174.31 L294.90,174.75 L296.20,174.84 L297.50,175.47 L298.80,175.30 L300.10,175.79 L301.40,175.96 L302.70,176.73 L304.00,177.09 L305.30,177.67 L306.60,178.39 L307.90,178.26 L309.20,179.46 L310.50,179.72 L311.80,180.33 L313.10,180.71 L314.40,181.40 L315.70,182.00 L317.00,182.81 L318.30,183.57 L319.60,184.61 L320.90,185.62 L322.20,186.72 L323.50,188.27 L324.80,189.31 L326.10,190.32 L327.40,190.96 L328.70,192.30 L330.00,193.65 L331.30,194.87 L332.60,195.75 L333.90,197.04 L335.20,198.39 L336.50,199.02 L337.80,200.25 L339.10,201.67 L340.40,202.43 L341.70,203.83 L343.00,204.62 L344.30,205.32 L345.60,206.63 L346.90,207.21 L348.20,208.62 L349.50,209.46 L350.80,209.97 L352.10,211.00 L353.40,211.19 L354.70,212.11 L356.00,212.65" fill="none" stroke="#ec7a35" stroke-width="4" stroke-linejoin="round" stroke-linecap="butt"/><text x="281.75" y="268.20" font-size="8.2" text-anchor="middle" font-weight="normal" fill="#222" >+/−1kb of TSS</text><text x="206.0" y="161.4" font-size="11" fill="#111"><tspan font-weight="bold">H3K4me3</tspan> (Sperm)</text><line x1="369.7" y1="167" x2="369.7" y2="258.1" stroke="#111" stroke-width="1.2"/><line x1="369.09999999999997" y1="258.1" x2="519.7" y2="258.1" stroke="#111" stroke-width="1.2"/><line x1="367.7" y1="187.3" x2="369.7" y2="187.3" stroke="#333" stroke-width="0.6"/><text x="366.20" y="190.30" font-size="8.2" text-anchor="end" font-weight="normal" fill="#333" >3</text><line x1="367.7" y1="211" x2="369.7" y2="211" stroke="#333" stroke-width="0.6"/><text x="366.20" y="214.00" font-size="8.2" text-anchor="end" font-weight="normal" fill="#333" >2</text><line x1="367.7" y1="234.6" x2="369.7" y2="234.6" stroke="#333" stroke-width="0.6"/><text x="366.20" y="237.60" font-size="8.2" text-anchor="end" font-weight="normal" fill="#333" >1</text><line x1="367.7" y1="258.1" x2="369.7" y2="258.1" stroke="#333" stroke-width="0.6"/><text x="366.20" y="261.10" font-size="8.2" text-anchor="end" font-weight="normal" fill="#333" >0</text><path d="M369.70,253.28 L371.00,253.22 L372.30,253.20 L373.60,253.18 L374.90,252.96 L376.20,252.87 L377.50,252.81 L378.80,252.86 L380.10,252.62 L381.40,252.68 L382.70,252.58 L384.00,252.36 L385.30,252.37 L386.60,252.27 L387.90,252.17 L389.20,252.23 L390.50,251.92 L391.80,251.81 L393.10,251.95 L394.40,251.73 L395.70,251.59 L397.00,251.53 L398.30,251.45 L399.60,251.51 L400.90,251.23 L402.20,251.14 L403.50,251.13 L404.80,251.03 L406.10,251.03 L407.40,250.90 L408.70,250.67 L410.00,250.51 L411.30,250.55 L412.60,250.47 L413.90,250.11 L415.20,250.16 L416.50,250.07 L417.80,249.88 L419.10,249.65 L420.40,249.66 L421.70,249.52 L423.00,249.26 L424.30,249.25 L425.60,249.02 L426.90,248.86 L428.20,248.81 L429.50,248.70 L430.80,248.61 L432.10,248.57 L433.40,248.53 L434.70,248.47 L436.00,248.39 L437.30,248.32 L438.60,248.20 L439.90,248.02 L441.20,247.94 L442.50,248.07 L443.80,248.56 L445.10,249.32 L446.40,249.66 L447.70,249.55 L449.00,249.08 L450.30,248.30 L451.60,248.05 L452.90,247.94 L454.20,248.06 L455.50,248.26 L456.80,248.27 L458.10,248.44 L459.40,248.34 L460.70,248.51 L462.00,248.72 L463.30,248.75 L464.60,248.97 L465.90,249.04 L467.20,249.07 L468.50,249.21 L469.80,249.57 L471.10,249.50 L472.40,249.66 L473.70,249.83 L475.00,250.07 L476.30,250.24 L477.60,250.27 L478.90,250.40 L480.20,250.59 L481.50,250.58 L482.80,250.71 L484.10,250.89 L485.40,251.01 L486.70,250.97 L488.00,251.11 L489.30,251.23 L490.60,251.49 L491.90,251.60 L493.20,251.78 L494.50,251.84 L495.80,251.83 L497.10,252.07 L498.40,252.24 L499.70,252.20 L501.00,252.23 L502.30,252.43 L503.60,252.53 L504.90,252.61 L506.20,252.70 L507.50,252.83 L508.80,253.13 L510.10,253.04 L511.40,253.30 L512.70,253.31 L514.00,253.42 L515.30,253.69 L516.60,253.68 L517.90,253.76 L519.20,253.94" fill="none" stroke="#6b6b6b" stroke-width="3.0" stroke-linejoin="round" stroke-linecap="butt"/><path d="M369.70,251.08 L371.00,251.12 L372.30,251.33 L373.60,250.75 L374.90,251.21 L376.20,251.52 L377.50,251.59 L378.80,250.81 L380.10,251.34 L381.40,251.29 L382.70,251.10 L384.00,251.52 L385.30,250.87 L386.60,250.56 L387.90,250.82 L389.20,250.13 L390.50,249.37 L391.80,248.98 L393.10,248.76 L394.40,247.80 L395.70,247.95 L397.00,247.58 L398.30,246.71 L399.60,246.62 L400.90,246.14 L402.20,245.12 L403.50,244.64 L404.80,243.36 L406.10,242.62 L407.40,242.97 L408.70,241.48 L410.00,240.67 L411.30,240.68 L412.60,239.72 L413.90,238.10 L415.20,237.30 L416.50,236.10 L417.80,234.97 L419.10,233.46 L420.40,232.82 L421.70,231.34 L423.00,230.23 L424.30,228.83 L425.60,227.65 L426.90,226.49 L428.20,226.35 L429.50,225.15 L430.80,223.91 L432.10,222.44 L433.40,221.57 L434.70,220.74 L436.00,220.26 L437.30,219.32 L438.60,218.95 L439.90,218.31 L441.20,217.79 L442.50,217.83 L443.80,217.19 L445.10,216.82 L446.40,216.34 L447.70,216.24 L449.00,216.24 L450.30,215.48 L451.60,215.04 L452.90,215.36 L454.20,215.15 L455.50,215.55 L456.80,214.80 L458.10,215.69 L459.40,214.84 L460.70,215.63 L462.00,215.84 L463.30,216.17 L464.60,217.47 L465.90,218.11 L467.20,218.53 L468.50,220.05 L469.80,221.42 L471.10,222.06 L472.40,223.42 L473.70,225.27 L475.00,226.62 L476.30,227.42 L477.60,228.35 L478.90,229.39 L480.20,230.04 L481.50,231.64 L482.80,232.63 L484.10,232.97 L485.40,233.31 L486.70,234.57 L488.00,235.84 L489.30,236.10 L490.60,236.63 L491.90,237.46 L493.20,238.78 L494.50,239.37 L495.80,239.66 L497.10,240.68 L498.40,241.44 L499.70,242.25 L501.00,242.66 L502.30,242.76 L503.60,243.70 L504.90,244.34 L506.20,244.77 L507.50,245.12 L508.80,245.41 L510.10,245.79 L511.40,246.64 L512.70,246.85 L514.00,247.42 L515.30,247.34 L516.60,247.66 L517.90,248.35 L519.20,249.20" fill="none" stroke="#16988a" stroke-width="4" stroke-linejoin="round" stroke-linecap="butt"/><path d="M369.70,250.29 L371.00,250.05 L372.30,249.69 L373.60,250.18 L374.90,249.00 L376.20,248.91 L377.50,247.47 L378.80,247.85 L380.10,248.19 L381.40,247.45 L382.70,247.98 L384.00,247.72 L385.30,246.73 L386.60,245.98 L387.90,247.14 L389.20,245.97 L390.50,245.67 L391.80,246.78 L393.10,246.86 L394.40,246.73 L395.70,246.80 L397.00,245.40 L398.30,245.04 L399.60,244.92 L400.90,246.16 L402.20,244.51 L403.50,244.38 L404.80,243.93 L406.10,243.77 L407.40,243.53 L408.70,243.83 L410.00,243.27 L411.30,243.28 L412.60,244.08 L413.90,242.54 L415.20,243.37 L416.50,242.97 L417.80,242.41 L419.10,242.14 L420.40,242.17 L421.70,241.56 L423.00,240.64 L424.30,240.49 L425.60,239.99 L426.90,239.89 L428.20,240.49 L429.50,239.16 L430.80,238.14 L432.10,238.41 L433.40,238.54 L434.70,237.49 L436.00,237.48 L437.30,236.01 L438.60,235.52 L439.90,236.08 L441.20,234.61 L442.50,234.60 L443.80,234.29 L445.10,233.51 L446.40,232.77 L447.70,232.25 L449.00,233.36 L450.30,232.43 L451.60,232.40 L452.90,231.16 L454.20,231.47 L455.50,230.87 L456.80,230.03 L458.10,229.46 L459.40,229.06 L460.70,228.27 L462.00,228.26 L463.30,228.64 L464.60,227.58 L465.90,228.55 L467.20,227.84 L468.50,227.87 L469.80,228.10 L471.10,227.68 L472.40,226.70 L473.70,226.78 L475.00,226.27 L476.30,226.24 L477.60,227.74 L478.90,227.11 L480.20,227.74 L481.50,227.46 L482.80,226.75 L484.10,227.98 L485.40,228.08 L486.70,227.52 L488.00,227.15 L489.30,227.85 L490.60,227.92 L491.90,228.61 L493.20,228.51 L494.50,229.98 L495.80,230.93 L497.10,230.19 L498.40,231.73 L499.70,232.00 L501.00,232.42 L502.30,233.68 L503.60,233.29 L504.90,234.46 L506.20,233.47 L507.50,235.32 L508.80,234.26 L510.10,234.18 L511.40,235.84 L512.70,235.75 L514.00,235.84 L515.30,236.15 L516.60,235.66 L517.90,235.39 L519.20,235.92" fill="none" stroke="#6c9fd6" stroke-width="4" stroke-linejoin="round" stroke-linecap="butt"/><path d="M369.70,243.53 L371.00,243.18 L372.30,243.10 L373.60,242.81 L374.90,242.46 L376.20,241.57 L377.50,241.92 L378.80,241.03 L380.10,240.60 L381.40,240.05 L382.70,240.19 L384.00,239.45 L385.30,239.21 L386.60,239.18 L387.90,238.93 L389.20,238.41 L390.50,237.13 L391.80,236.50 L393.10,236.06 L394.40,235.67 L395.70,235.18 L397.00,234.18 L398.30,233.19 L399.60,231.52 L400.90,230.15 L402.20,228.22 L403.50,226.62 L404.80,224.80 L406.10,223.41 L407.40,221.71 L408.70,219.87 L410.00,217.88 L411.30,216.00 L412.60,213.66 L413.90,212.00 L415.20,209.38 L416.50,207.22 L417.80,205.04 L419.10,202.35 L420.40,200.32 L421.70,198.95 L423.00,198.25 L424.30,196.84 L425.60,195.23 L426.90,194.55 L428.20,193.04 L429.50,192.66 L430.80,190.87 L432.10,190.69 L433.40,190.06 L434.70,188.52 L436.00,187.62 L437.30,186.24 L438.60,185.34 L439.90,184.20 L441.20,183.16 L442.50,181.78 L443.80,180.94 L445.10,179.65 L446.40,179.09 L447.70,177.99 L449.00,176.90 L450.30,176.91 L451.60,175.51 L452.90,175.20 L454.20,175.19 L455.50,174.77 L456.80,174.92 L458.10,174.63 L459.40,175.25 L460.70,174.86 L462.00,176.29 L463.30,176.67 L464.60,177.62 L465.90,179.19 L467.20,180.32 L468.50,181.09 L469.80,182.39 L471.10,183.59 L472.40,185.63 L473.70,186.56 L475.00,187.42 L476.30,188.92 L477.60,189.53 L478.90,190.94 L480.20,192.42 L481.50,194.21 L482.80,195.37 L484.10,196.34 L485.40,197.92 L486.70,198.68 L488.00,200.51 L489.30,202.18 L490.60,202.55 L491.90,204.70 L493.20,206.01 L494.50,206.52 L495.80,208.18 L497.10,209.47 L498.40,209.54 L499.70,210.85 L501.00,211.88 L502.30,212.95 L503.60,213.15 L504.90,214.44 L506.20,215.10 L507.50,215.96 L508.80,216.46 L510.10,217.18 L511.40,217.44 L512.70,217.89 L514.00,218.29 L515.30,218.71 L516.60,219.26 L517.90,219.78 L519.20,220.18" fill="none" stroke="#ec7a35" stroke-width="4" stroke-linejoin="round" stroke-linecap="butt"/><text x="444.70" y="268.20" font-size="8.2" text-anchor="middle" font-weight="normal" fill="#222" >+/−1kb of TSS</text><text x="369.2" y="161.4" font-size="11" fill="#111"><tspan font-weight="bold">H3K4me3</tspan> (Pre−ZGA)</text><line x1="534.2" y1="167" x2="534.2" y2="258.9" stroke="#111" stroke-width="1.2"/><line x1="533.6" y1="258.9" x2="684" y2="258.9" stroke="#111" stroke-width="1.2"/><line x1="532.2" y1="175.1" x2="534.2" y2="175.1" stroke="#333" stroke-width="0.6"/><text x="531.50" y="178.10" font-size="8.2" text-anchor="end" font-weight="normal" fill="#333" >5</text><line x1="532.2" y1="191.9" x2="534.2" y2="191.9" stroke="#333" stroke-width="0.6"/><text x="531.50" y="194.90" font-size="8.2" text-anchor="end" font-weight="normal" fill="#333" >4</text><line x1="532.2" y1="208.9" x2="534.2" y2="208.9" stroke="#333" stroke-width="0.6"/><text x="531.50" y="211.90" font-size="8.2" text-anchor="end" font-weight="normal" fill="#333" >3</text><line x1="532.2" y1="226" x2="534.2" y2="226" stroke="#333" stroke-width="0.6"/><text x="531.50" y="229.00" font-size="8.2" text-anchor="end" font-weight="normal" fill="#333" >2</text><line x1="532.2" y1="242.7" x2="534.2" y2="242.7" stroke="#333" stroke-width="0.6"/><text x="531.50" y="245.70" font-size="8.2" text-anchor="end" font-weight="normal" fill="#333" >1</text><line x1="532.2" y1="258.9" x2="534.2" y2="258.9" stroke="#333" stroke-width="0.6"/><text x="531.50" y="261.90" font-size="8.2" text-anchor="end" font-weight="normal" fill="#333" >0</text><path d="M534.20,254.37 L535.50,254.25 L536.80,254.14 L538.10,254.24 L539.40,254.07 L540.70,254.02 L542.00,253.90 L543.30,253.77 L544.60,253.77 L545.90,253.65 L547.20,253.61 L548.50,253.50 L549.80,253.46 L551.10,253.27 L552.40,253.11 L553.70,253.03 L555.00,253.08 L556.30,252.86 L557.60,252.89 L558.90,252.80 L560.20,252.57 L561.50,252.66 L562.80,252.39 L564.10,252.51 L565.40,252.41 L566.70,252.16 L568.00,252.20 L569.30,252.11 L570.60,251.86 L571.90,251.90 L573.20,251.66 L574.50,251.75 L575.80,251.58 L577.10,251.53 L578.40,251.18 L579.70,251.13 L581.00,251.08 L582.30,250.95 L583.60,250.72 L584.90,250.77 L586.20,250.63 L587.50,250.38 L588.80,250.22 L590.10,250.23 L591.40,250.05 L592.70,250.00 L594.00,249.85 L595.30,249.73 L596.60,249.54 L597.90,249.48 L599.20,249.48 L600.50,249.48 L601.80,249.34 L603.10,249.36 L604.40,249.27 L605.70,249.32 L607.00,249.24 L608.30,249.65 L609.60,250.53 L610.90,251.22 L612.20,251.20 L613.50,250.98 L614.80,250.38 L616.10,249.75 L617.40,249.18 L618.70,249.25 L620.00,249.15 L621.30,249.39 L622.60,249.39 L623.90,249.49 L625.20,249.53 L626.50,249.58 L627.80,249.79 L629.10,249.93 L630.40,249.87 L631.70,250.05 L633.00,250.25 L634.30,250.38 L635.60,250.45 L636.90,250.60 L638.20,250.88 L639.50,250.85 L640.80,250.98 L642.10,251.24 L643.40,251.28 L644.70,251.58 L646.00,251.57 L647.30,251.85 L648.60,251.84 L649.90,252.09 L651.20,252.17 L652.50,252.28 L653.80,252.26 L655.10,252.37 L656.40,252.45 L657.70,252.60 L659.00,252.84 L660.30,252.80 L661.60,252.96 L662.90,253.15 L664.20,253.17 L665.50,253.32 L666.80,253.41 L668.10,253.64 L669.40,253.62 L670.70,253.95 L672.00,253.97 L673.30,254.11 L674.60,254.18 L675.90,254.28 L677.20,254.52 L678.50,254.61 L679.80,254.71 L681.10,254.63 L682.40,254.88 L683.70,255.08" fill="none" stroke="#6b6b6b" stroke-width="3.0" stroke-linejoin="round" stroke-linecap="butt"/><path d="M534.20,251.58 L535.50,252.18 L536.80,251.45 L538.10,251.72 L539.40,251.89 L540.70,251.97 L542.00,251.52 L543.30,251.50 L544.60,250.86 L545.90,251.20 L547.20,250.97 L548.50,251.29 L549.80,250.68 L551.10,250.57 L552.40,249.80 L553.70,249.02 L555.00,249.23 L556.30,248.59 L557.60,247.45 L558.90,246.45 L560.20,246.20 L561.50,245.43 L562.80,244.97 L564.10,243.99 L565.40,243.09 L566.70,242.36 L568.00,241.34 L569.30,240.17 L570.60,239.40 L571.90,239.62 L573.20,238.76 L574.50,237.44 L575.80,237.42 L577.10,236.33 L578.40,235.18 L579.70,235.36 L581.00,234.39 L582.30,234.12 L583.60,233.18 L584.90,231.87 L586.20,231.82 L587.50,231.36 L588.80,230.85 L590.10,229.59 L591.40,229.19 L592.70,228.77 L594.00,227.56 L595.30,227.73 L596.60,227.09 L597.90,225.78 L599.20,225.96 L600.50,225.29 L601.80,224.65 L603.10,224.63 L604.40,224.47 L605.70,223.27 L607.00,221.82 L608.30,221.21 L609.60,220.56 L610.90,220.01 L612.20,219.26 L613.50,218.04 L614.80,218.59 L616.10,217.73 L617.40,216.73 L618.70,216.43 L620.00,216.14 L621.30,216.66 L622.60,216.10 L623.90,217.03 L625.20,216.64 L626.50,217.69 L627.80,218.30 L629.10,218.70 L630.40,219.62 L631.70,221.66 L633.00,222.85 L634.30,223.04 L635.60,224.89 L636.90,226.34 L638.20,227.38 L639.50,228.46 L640.80,228.88 L642.10,230.25 L643.40,230.85 L644.70,232.14 L646.00,232.65 L647.30,233.56 L648.60,234.31 L649.90,234.49 L651.20,235.54 L652.50,235.51 L653.80,236.27 L655.10,237.69 L656.40,237.68 L657.70,238.55 L659.00,238.95 L660.30,239.10 L661.60,239.94 L662.90,240.74 L664.20,240.50 L665.50,240.90 L666.80,241.08 L668.10,241.41 L669.40,242.46 L670.70,242.63 L672.00,243.21 L673.30,243.16 L674.60,243.76 L675.90,243.21 L677.20,243.44 L678.50,243.75 L679.80,244.21 L681.10,245.17 L682.40,244.61 L683.70,245.18" fill="none" stroke="#16988a" stroke-width="4" stroke-linejoin="round" stroke-linecap="butt"/><path d="M534.20,247.83 L535.50,246.64 L536.80,246.91 L538.10,246.67 L539.40,247.39 L540.70,247.15 L542.00,247.36 L543.30,245.86 L544.60,246.28 L545.90,245.46 L547.20,245.61 L548.50,245.92 L549.80,244.94 L551.10,245.03 L552.40,245.58 L553.70,245.19 L555.00,244.41 L556.30,244.79 L557.60,244.92 L558.90,243.31 L560.20,244.40 L561.50,243.95 L562.80,243.08 L564.10,242.50 L565.40,243.57 L566.70,242.25 L568.00,241.57 L569.30,241.30 L570.60,242.29 L571.90,241.60 L573.20,241.68 L574.50,241.29 L575.80,240.70 L577.10,241.19 L578.40,239.95 L579.70,240.01 L581.00,240.25 L582.30,239.67 L583.60,239.85 L584.90,239.15 L586.20,239.13 L587.50,237.79 L588.80,237.86 L590.10,237.71 L591.40,237.10 L592.70,237.09 L594.00,236.58 L595.30,236.58 L596.60,236.86 L597.90,236.07 L599.20,235.73 L600.50,235.06 L601.80,234.61 L603.10,234.98 L604.40,233.44 L605.70,231.84 L607.00,228.96 L608.30,227.51 L609.60,224.32 L610.90,222.95 L612.20,222.94 L613.50,221.46 L614.80,220.50 L616.10,219.96 L617.40,219.55 L618.70,218.83 L620.00,217.37 L621.30,216.56 L622.60,216.62 L623.90,216.18 L625.20,215.78 L626.50,216.77 L627.80,216.47 L629.10,215.44 L630.40,216.02 L631.70,215.68 L633.00,216.72 L634.30,216.18 L635.60,216.12 L636.90,216.39 L638.20,217.23 L639.50,217.05 L640.80,217.89 L642.10,218.70 L643.40,218.10 L644.70,218.03 L646.00,219.57 L647.30,218.98 L648.60,218.51 L649.90,218.67 L651.20,219.01 L652.50,220.12 L653.80,220.64 L655.10,220.27 L656.40,219.92 L657.70,220.72 L659.00,222.02 L660.30,221.51 L661.60,222.53 L662.90,222.64 L664.20,221.52 L665.50,223.02 L666.80,223.28 L668.10,223.39 L669.40,223.30 L670.70,224.31 L672.00,223.81 L673.30,224.76 L674.60,225.21 L675.90,226.46 L677.20,226.76 L678.50,226.15 L679.80,226.97 L681.10,226.85 L682.40,228.50 L683.70,228.83" fill="none" stroke="#6c9fd6" stroke-width="4" stroke-linejoin="round" stroke-linecap="butt"/><path d="M534.20,238.50 L535.50,238.25 L536.80,238.24 L538.10,237.11 L539.40,236.81 L540.70,236.24 L542.00,235.99 L543.30,235.51 L544.60,235.30 L545.90,235.32 L547.20,235.45 L548.50,234.69 L549.80,233.88 L551.10,233.41 L552.40,233.20 L553.70,232.23 L555.00,231.36 L556.30,231.62 L557.60,230.75 L558.90,229.53 L560.20,228.79 L561.50,228.09 L562.80,228.29 L564.10,226.53 L565.40,226.24 L566.70,225.70 L568.00,223.67 L569.30,223.01 L570.60,221.96 L571.90,221.22 L573.20,219.09 L574.50,217.81 L575.80,216.40 L577.10,214.76 L578.40,214.03 L579.70,212.78 L581.00,210.96 L582.30,209.16 L583.60,208.62 L584.90,207.43 L586.20,206.20 L587.50,204.82 L588.80,204.50 L590.10,203.52 L591.40,202.82 L592.70,202.17 L594.00,201.29 L595.30,201.02 L596.60,200.88 L597.90,200.21 L599.20,199.50 L600.50,199.97 L601.80,199.92 L603.10,198.64 L604.40,197.77 L605.70,195.86 L607.00,192.65 L608.30,190.06 L609.60,186.63 L610.90,183.87 L612.20,182.69 L613.50,180.55 L614.80,179.09 L616.10,177.85 L617.40,177.10 L618.70,176.79 L620.00,175.77 L621.30,174.51 L622.60,174.38 L623.90,173.49 L625.20,174.21 L626.50,174.44 L627.80,175.64 L629.10,177.28 L630.40,178.37 L631.70,178.99 L633.00,179.50 L634.30,180.77 L635.60,181.23 L636.90,181.82 L638.20,183.01 L639.50,184.35 L640.80,185.17 L642.10,185.55 L643.40,187.15 L644.70,187.99 L646.00,188.22 L647.30,189.82 L648.60,189.88 L649.90,190.49 L651.20,191.83 L652.50,193.08 L653.80,193.64 L655.10,194.45 L656.40,195.28 L657.70,195.99 L659.00,197.02 L660.30,198.20 L661.60,199.43 L662.90,200.90 L664.20,200.88 L665.50,201.91 L666.80,203.36 L668.10,203.59 L669.40,203.40 L670.70,204.22 L672.00,204.86 L673.30,205.58 L674.60,205.15 L675.90,206.64 L677.20,207.10 L678.50,207.19 L679.80,208.12 L681.10,209.11 L682.40,209.12 L683.70,210.28" fill="none" stroke="#ec7a35" stroke-width="4" stroke-linejoin="round" stroke-linecap="butt"/><text x="609.10" y="268.20" font-size="8.2" text-anchor="middle" font-weight="normal" fill="#222" >+/−1kb of TSS</text><text x="533.7" y="161.4" font-size="11" fill="#111"><tspan font-weight="bold">H3K4me3</tspan> (ZGA)</text><text transform="translate(19.5,321) rotate(-90)" font-size="8.3" text-anchor="middle" fill="#333">H3K4me3 enrichment</text><line x1="42" y1="276.8" x2="42" y2="366.3" stroke="#111" stroke-width="1.2"/><line x1="41.4" y1="366.3" x2="180" y2="366.3" stroke="#111" stroke-width="1.2"/><line x1="40" y1="300.5" x2="42" y2="300.5" stroke="#333" stroke-width="0.6"/><text x="38.10" y="303.50" font-size="8.2" text-anchor="end" font-weight="normal" fill="#333" >800</text><line x1="40" y1="324.9" x2="42" y2="324.9" stroke="#333" stroke-width="0.6"/><text x="38.10" y="327.90" font-size="8.2" text-anchor="end" font-weight="normal" fill="#333" >400</text><line x1="40" y1="349.5" x2="42" y2="349.5" stroke="#333" stroke-width="0.6"/><text x="38.10" y="352.50" font-size="8.2" text-anchor="end" font-weight="normal" fill="#333" >0</text><line x1="61.9" y1="366.3" x2="61.9" y2="368.3" stroke="#333" stroke-width="0.6"/><text x="61.90" y="376.80" font-size="8.6" text-anchor="middle" font-weight="normal" fill="#222" >GZ</text><line x1="95.9" y1="366.3" x2="95.9" y2="368.3" stroke="#333" stroke-width="0.6"/><text x="95.90" y="376.80" font-size="8.6" text-anchor="middle" font-weight="normal" fill="#222" >GS</text><line x1="129.3" y1="366.3" x2="129.3" y2="368.3" stroke="#333" stroke-width="0.6"/><text x="129.30" y="376.80" font-size="8.6" text-anchor="middle" font-weight="normal" fill="#222" >ZS</text><line x1="162.9" y1="366.3" x2="162.9" y2="368.3" stroke="#333" stroke-width="0.6"/><text x="162.90" y="376.80" font-size="8.6" text-anchor="middle" font-weight="normal" fill="#222" >ND</text><path d="M61.90,288.30 C62.62,289.17 64.47,291.77 66.20,293.50 C67.93,295.23 70.47,297.12 72.30,298.70 C74.13,300.28 76.12,301.55 77.20,303.00 C78.28,304.45 79.07,305.80 78.80,307.40 C78.53,309.00 76.70,311.15 75.60,312.60 C74.50,314.05 73.42,314.80 72.20,316.10 C70.98,317.40 69.18,318.95 68.30,320.40 C67.42,321.85 67.13,322.92 66.90,324.80 C66.67,326.68 66.82,329.38 66.90,331.70 C66.98,334.02 67.40,336.37 67.40,338.70 C67.40,341.03 67.32,343.67 66.90,345.70 C66.48,347.73 65.60,349.17 64.90,350.90 C64.20,352.63 63.20,354.80 62.70,356.10 C62.20,357.40 62.03,358.27 61.90,358.70 L61.90,358.70 C61.77,358.27 61.60,357.40 61.10,356.10 C60.60,354.80 59.60,352.63 58.90,350.90 C58.20,349.17 57.32,347.73 56.90,345.70 C56.48,343.67 56.40,341.03 56.40,338.70 C56.40,336.37 56.82,334.02 56.90,331.70 C56.98,329.38 57.13,326.68 56.90,324.80 C56.67,322.92 56.38,321.85 55.50,320.40 C54.62,318.95 52.82,317.40 51.60,316.10 C50.38,314.80 49.30,314.05 48.20,312.60 C47.10,311.15 45.27,309.00 45.00,307.40 C44.73,305.80 45.52,304.45 46.60,303.00 C47.68,301.55 49.67,300.28 51.50,298.70 C53.33,297.12 55.87,295.23 57.60,293.50 C59.33,291.77 61.18,289.17 61.90,288.30 Z" fill="#ec7a35" stroke="#111" stroke-width="0.8"/><line x1="61.9" y1="295.2" x2="61.9" y2="350" stroke="#222" stroke-width="0.9"/><rect x="58.6" y="304.6" width="6.999999999999993" height="26.599999999999966" fill="#fff" stroke="#111" stroke-width="0.8"/><line x1="58.6" y1="310.5" x2="65.6" y2="310.5" stroke="#111" stroke-width="1.1"/><path d="M95.90,290.40 C96.25,290.98 97.13,292.73 98.00,293.90 C98.87,295.07 99.85,295.95 101.10,297.40 C102.35,298.85 104.53,301.15 105.50,302.60 C106.47,304.05 106.82,304.80 106.90,306.10 C106.98,307.40 106.53,308.95 106.00,310.40 C105.47,311.85 104.48,313.20 103.70,314.80 C102.92,316.40 101.75,318.27 101.30,320.00 C100.85,321.73 100.80,323.47 101.00,325.20 C101.20,326.93 101.75,328.65 102.50,330.40 C103.25,332.15 104.28,333.95 105.50,335.70 C106.72,337.45 108.57,339.02 109.80,340.90 C111.03,342.78 113.05,345.27 112.90,347.00 C112.75,348.73 110.57,350.00 108.90,351.30 C107.23,352.60 104.83,353.35 102.90,354.80 C100.97,356.25 98.47,358.70 97.30,360.00 C96.13,361.30 96.13,362.17 95.90,362.60 L95.90,362.60 C95.67,362.17 95.67,361.30 94.50,360.00 C93.33,358.70 90.83,356.25 88.90,354.80 C86.97,353.35 84.57,352.60 82.90,351.30 C81.23,350.00 79.05,348.73 78.90,347.00 C78.75,345.27 80.77,342.78 82.00,340.90 C83.23,339.02 85.08,337.45 86.30,335.70 C87.52,333.95 88.55,332.15 89.30,330.40 C90.05,328.65 90.60,326.93 90.80,325.20 C91.00,323.47 90.95,321.73 90.50,320.00 C90.05,318.27 88.88,316.40 88.10,314.80 C87.32,313.20 86.33,311.85 85.80,310.40 C85.27,308.95 84.82,307.40 84.90,306.10 C84.98,304.80 85.33,304.05 86.30,302.60 C87.27,301.15 89.45,298.85 90.70,297.40 C91.95,295.95 92.93,295.07 93.80,293.90 C94.67,292.73 95.55,290.98 95.90,290.40 Z" fill="#16988a" stroke="#111" stroke-width="0.8"/><line x1="95.9" y1="294" x2="95.9" y2="349" stroke="#222" stroke-width="0.9"/><rect x="92.4" y="309.9" width="6.599999999999994" height="37.60000000000002" fill="#fff" stroke="#111" stroke-width="0.8"/><line x1="92.4" y1="334.3" x2="99" y2="334.3" stroke="#111" stroke-width="1.1"/><line x1="129.3" y1="298" x2="129.3" y2="311" stroke="#000" stroke-width="2.6"/><path d="M129.30,300.00 C129.53,301.00 130.12,303.53 130.70,306.00 C131.28,308.47 132.37,312.18 132.80,314.80 C133.23,317.42 133.07,319.38 133.30,321.70 C133.53,324.02 133.33,326.37 134.20,328.70 C135.07,331.03 137.05,333.67 138.50,335.70 C139.95,337.73 141.53,339.18 142.90,340.90 C144.27,342.62 146.42,344.55 146.70,346.00 C146.98,347.45 146.12,348.43 144.60,349.60 C143.08,350.77 139.98,351.70 137.60,353.00 C135.22,354.30 131.68,356.52 130.30,357.40 C128.92,358.28 129.47,358.15 129.30,358.30 L129.30,358.30 C129.13,358.15 129.68,358.28 128.30,357.40 C126.92,356.52 123.38,354.30 121.00,353.00 C118.62,351.70 115.52,350.77 114.00,349.60 C112.48,348.43 111.62,347.45 111.90,346.00 C112.18,344.55 114.33,342.62 115.70,340.90 C117.07,339.18 118.65,337.73 120.10,335.70 C121.55,333.67 123.53,331.03 124.40,328.70 C125.27,326.37 125.07,324.02 125.30,321.70 C125.53,319.38 125.37,317.42 125.80,314.80 C126.23,312.18 127.32,308.47 127.90,306.00 C128.48,303.53 129.07,301.00 129.30,300.00 Z" fill="#6c9fd6" stroke="#111" stroke-width="0.8"/><line x1="129.3" y1="300" x2="129.3" y2="349" stroke="#222" stroke-width="0.9"/><rect x="126.7" y="333" width="5.700000000000003" height="14" fill="#fff" stroke="#111" stroke-width="0.8"/><line x1="126.7" y1="341.7" x2="132.4" y2="341.7" stroke="#111" stroke-width="1.1"/><line x1="162.9" y1="291.3" x2="162.9" y2="331" stroke="#000" stroke-width="3.4"/><path d="M162.90,330.40 C163.77,331.28 166.73,334.25 168.10,335.70 C169.47,337.15 170.32,337.95 171.10,339.10 C171.88,340.25 172.60,341.45 172.80,342.60 C173.00,343.75 171.55,344.98 172.30,346.00 C173.05,347.02 176.05,348.05 177.30,348.70 C178.55,349.35 181.27,349.47 179.80,349.90 C178.33,350.33 171.32,350.92 168.50,351.30 C165.68,351.68 163.83,352.05 162.90,352.20 L162.90,352.20 C161.97,352.05 160.12,351.68 157.30,351.30 C154.48,350.92 147.47,350.33 146.00,349.90 C144.53,349.47 147.25,349.35 148.50,348.70 C149.75,348.05 152.75,347.02 153.50,346.00 C154.25,344.98 152.80,343.75 153.00,342.60 C153.20,341.45 153.92,340.25 154.70,339.10 C155.48,337.95 156.33,337.15 157.70,335.70 C159.07,334.25 162.03,331.28 162.90,330.40 Z" fill="#666" stroke="#111" stroke-width="0.8"/><line x1="162.9" y1="331" x2="162.9" y2="349" stroke="#222" stroke-width="0.9"/><rect x="159.3" y="340.9" width="7.099999999999994" height="7.300000000000011" fill="#fff" stroke="#111" stroke-width="0.8"/><line x1="159.3" y1="344.3" x2="166.4" y2="344.3" stroke="#111" stroke-width="1.1"/><path d="M61.9,280.1 L61.9,277.6 L95.9,277.6 L95.9,282.6" fill="none" stroke="#333" stroke-width="0.9"/><text x="78.90" y="278.20" font-size="8.4" text-anchor="middle" font-weight="normal" fill="#333" >****</text><path d="M95.9,285.1 L95.9,282.6 L129.3,282.6 L129.3,287" fill="none" stroke="#333" stroke-width="0.9"/><text x="112.60" y="283.20" font-size="8.4" text-anchor="middle" font-weight="normal" fill="#333" >****</text><path d="M129.3,289.5 L129.3,287 L162.9,287 L162.9,291.3" fill="none" stroke="#333" stroke-width="0.9"/><text x="146.10" y="287.60" font-size="8.4" text-anchor="middle" font-weight="normal" fill="#333" >****</text><line x1="206.3" y1="276.8" x2="206.3" y2="366.3" stroke="#111" stroke-width="1.2"/><line x1="205.70000000000002" y1="366.3" x2="342.9" y2="366.3" stroke="#111" stroke-width="1.2"/><line x1="204.3" y1="282.1" x2="206.3" y2="282.1" stroke="#333" stroke-width="0.6"/><text x="203.10" y="285.10" font-size="8.2" text-anchor="end" font-weight="normal" fill="#333" >1000</text><line x1="204.3" y1="298.4" x2="206.3" y2="298.4" stroke="#333" stroke-width="0.6"/><text x="203.10" y="301.40" font-size="8.2" text-anchor="end" font-weight="normal" fill="#333" >750</text><line x1="204.3" y1="314.9" x2="206.3" y2="314.9" stroke="#333" stroke-width="0.6"/><text x="203.10" y="317.90" font-size="8.2" text-anchor="end" font-weight="normal" fill="#333" >500</text><line x1="204.3" y1="332" x2="206.3" y2="332" stroke="#333" stroke-width="0.6"/><text x="203.10" y="335.00" font-size="8.2" text-anchor="end" font-weight="normal" fill="#333" >250</text><line x1="204.3" y1="349" x2="206.3" y2="349" stroke="#333" stroke-width="0.6"/><text x="203.10" y="352.00" font-size="8.2" text-anchor="end" font-weight="normal" fill="#333" >0</text><line x1="226.4" y1="366.3" x2="226.4" y2="368.3" stroke="#333" stroke-width="0.6"/><text x="226.40" y="376.80" font-size="8.6" text-anchor="middle" font-weight="normal" fill="#222" >GZ</text><line x1="258.5" y1="366.3" x2="258.5" y2="368.3" stroke="#333" stroke-width="0.6"/><text x="258.50" y="376.80" font-size="8.6" text-anchor="middle" font-weight="normal" fill="#222" >GS</text><line x1="291.6" y1="366.3" x2="291.6" y2="368.3" stroke="#333" stroke-width="0.6"/><text x="291.60" y="376.80" font-size="8.6" text-anchor="middle" font-weight="normal" fill="#222" >ZS</text><line x1="324.6" y1="366.3" x2="324.6" y2="368.3" stroke="#333" stroke-width="0.6"/><text x="324.60" y="376.80" font-size="8.6" text-anchor="middle" font-weight="normal" fill="#222" >ND</text><path d="M226.40,286.00 C226.70,286.62 227.35,288.48 228.20,289.70 C229.05,290.92 229.88,291.78 231.50,293.30 C233.12,294.82 236.07,296.97 237.90,298.80 C239.73,300.63 241.88,302.77 242.50,304.30 C243.12,305.83 242.52,306.47 241.60,308.00 C240.68,309.53 238.53,311.83 237.00,313.50 C235.47,315.17 233.55,316.48 232.40,318.00 C231.25,319.52 230.62,320.60 230.10,322.60 C229.58,324.60 229.30,327.55 229.30,330.00 C229.30,332.45 229.88,334.87 230.10,337.30 C230.32,339.73 230.82,342.47 230.60,344.60 C230.38,346.73 229.45,348.27 228.80,350.10 C228.15,351.93 227.10,354.53 226.70,355.60 C226.30,356.67 226.45,356.35 226.40,356.50 L226.40,356.50 C226.35,356.35 226.50,356.67 226.10,355.60 C225.70,354.53 224.65,351.93 224.00,350.10 C223.35,348.27 222.42,346.73 222.20,344.60 C221.98,342.47 222.48,339.73 222.70,337.30 C222.92,334.87 223.50,332.45 223.50,330.00 C223.50,327.55 223.22,324.60 222.70,322.60 C222.18,320.60 221.55,319.52 220.40,318.00 C219.25,316.48 217.33,315.17 215.80,313.50 C214.27,311.83 212.12,309.53 211.20,308.00 C210.28,306.47 209.68,305.83 210.30,304.30 C210.92,302.77 213.07,300.63 214.90,298.80 C216.73,296.97 219.68,294.82 221.30,293.30 C222.92,291.78 223.75,290.92 224.60,289.70 C225.45,288.48 226.10,286.62 226.40,286.00 Z" fill="#ec7a35" stroke="#111" stroke-width="0.8"/><line x1="226.4" y1="290" x2="226.4" y2="349" stroke="#222" stroke-width="0.9"/><rect x="222.8" y="304.3" width="6.899999999999977" height="24.80000000000001" fill="#fff" stroke="#111" stroke-width="0.8"/><line x1="222.8" y1="309.5" x2="229.7" y2="309.5" stroke="#111" stroke-width="1.1"/><path d="M258.50,287.00 C258.75,287.45 259.15,288.33 260.00,289.70 C260.85,291.07 262.08,293.07 263.60,295.20 C265.12,297.33 268.03,300.67 269.10,302.50 C270.17,304.33 270.30,304.68 270.00,306.20 C269.70,307.72 268.22,309.47 267.30,311.60 C266.38,313.73 264.80,316.55 264.50,319.00 C264.20,321.45 264.88,323.87 265.50,326.30 C266.12,328.73 266.92,331.15 268.20,333.60 C269.48,336.05 272.07,338.85 273.20,341.00 C274.33,343.15 275.83,344.67 275.00,346.50 C274.17,348.33 270.40,350.17 268.20,352.00 C266.00,353.83 263.42,355.98 261.80,357.50 C260.18,359.02 259.05,360.50 258.50,361.10 L258.50,361.10 C257.95,360.50 256.82,359.02 255.20,357.50 C253.58,355.98 251.00,353.83 248.80,352.00 C246.60,350.17 242.83,348.33 242.00,346.50 C241.17,344.67 242.67,343.15 243.80,341.00 C244.93,338.85 247.52,336.05 248.80,333.60 C250.08,331.15 250.88,328.73 251.50,326.30 C252.12,323.87 252.80,321.45 252.50,319.00 C252.20,316.55 250.62,313.73 249.70,311.60 C248.78,309.47 247.30,307.72 247.00,306.20 C246.70,304.68 246.83,304.33 247.90,302.50 C248.97,300.67 251.88,297.33 253.40,295.20 C254.92,293.07 256.15,291.07 257.00,289.70 C257.85,288.33 258.25,287.45 258.50,287.00 Z" fill="#16988a" stroke="#111" stroke-width="0.8"/><line x1="258.5" y1="290" x2="258.5" y2="349" stroke="#222" stroke-width="0.9"/><rect x="255.8" y="310.4" width="6.399999999999977" height="35.5" fill="#fff" stroke="#111" stroke-width="0.8"/><line x1="255.8" y1="330" x2="262.2" y2="330" stroke="#111" stroke-width="1.1"/><path d="M291.60,289.70 C291.75,291.53 291.95,297.95 292.50,300.70 C293.05,303.45 294.25,304.38 294.90,306.20 C295.55,308.02 296.25,309.78 296.40,311.60 C296.55,313.42 296.20,315.27 295.80,317.10 C295.40,318.93 294.15,321.07 294.00,322.60 C293.85,324.13 293.98,324.47 294.90,326.30 C295.82,328.13 297.97,331.47 299.50,333.60 C301.03,335.73 302.63,337.12 304.10,339.10 C305.57,341.08 308.30,343.67 308.30,345.50 C308.30,347.33 306.18,348.57 304.10,350.10 C302.02,351.63 297.88,353.17 295.80,354.70 C293.72,356.23 292.30,358.53 291.60,359.30 L291.60,359.30 C290.90,358.53 289.48,356.23 287.40,354.70 C285.32,353.17 281.18,351.63 279.10,350.10 C277.02,348.57 274.90,347.33 274.90,345.50 C274.90,343.67 277.63,341.08 279.10,339.10 C280.57,337.12 282.17,335.73 283.70,333.60 C285.23,331.47 287.38,328.13 288.30,326.30 C289.22,324.47 289.35,324.13 289.20,322.60 C289.05,321.07 287.80,318.93 287.40,317.10 C287.00,315.27 286.65,313.42 286.80,311.60 C286.95,309.78 287.65,308.02 288.30,306.20 C288.95,304.38 290.15,303.45 290.70,300.70 C291.25,297.95 291.45,291.53 291.60,289.70 Z" fill="#6c9fd6" stroke="#111" stroke-width="0.8"/><line x1="291.6" y1="292" x2="291.6" y2="349" stroke="#222" stroke-width="0.9"/><rect x="288.5" y="326.9" width="7.0" height="20.100000000000023" fill="#fff" stroke="#111" stroke-width="0.8"/><line x1="288.5" y1="344.3" x2="295.5" y2="344.3" stroke="#111" stroke-width="1.1"/><line x1="324.6" y1="291.9" x2="324.6" y2="331.8" stroke="#000" stroke-width="3.3"/><path d="M324.60,331.80 C325.00,332.72 326.15,335.47 327.00,337.30 C327.85,339.13 328.02,341.12 329.70,342.80 C331.38,344.48 335.27,346.42 337.10,347.40 C338.93,348.38 341.47,348.25 340.70,348.70 C339.93,349.15 335.18,349.55 332.50,350.10 C329.82,350.65 325.92,351.68 324.60,352.00 L324.60,352.00 C323.28,351.68 319.38,350.65 316.70,350.10 C314.02,349.55 309.27,349.15 308.50,348.70 C307.73,348.25 310.27,348.38 312.10,347.40 C313.93,346.42 317.82,344.48 319.50,342.80 C321.18,341.12 321.35,339.13 322.20,337.30 C323.05,335.47 324.20,332.72 324.60,331.80 Z" fill="#666" stroke="#111" stroke-width="0.8"/><line x1="324.6" y1="332" x2="324.6" y2="349" stroke="#222" stroke-width="0.9"/><rect x="322.4" y="341.9" width="4.600000000000023" height="5.5" fill="#fff" stroke="#111" stroke-width="0.8"/><line x1="322.4" y1="344.3" x2="327" y2="344.3" stroke="#111" stroke-width="1.1"/><path d="M226.4,279.3 L226.4,276.8 L258.5,276.8 L258.5,281.4" fill="none" stroke="#333" stroke-width="0.9"/><text x="242.45" y="277.40" font-size="8.4" text-anchor="middle" font-weight="normal" fill="#333" >****</text><path d="M258.5,283.9 L258.5,281.4 L291.6,281.4 L291.6,285.6" fill="none" stroke="#333" stroke-width="0.9"/><text x="275.05" y="282.00" font-size="8.4" text-anchor="middle" font-weight="normal" fill="#333" >****</text><path d="M291.6,288.1 L291.6,285.6 L324.6,285.6 L324.6,288.4" fill="none" stroke="#333" stroke-width="0.9"/><text x="308.10" y="286.20" font-size="8.4" text-anchor="middle" font-weight="normal" fill="#333" >****</text><line x1="368.6" y1="276.8" x2="368.6" y2="366.3" stroke="#111" stroke-width="1.2"/><line x1="368.0" y1="366.3" x2="509.2" y2="366.3" stroke="#111" stroke-width="1.2"/><line x1="366.6" y1="279.5" x2="368.6" y2="279.5" stroke="#333" stroke-width="0.6"/><text x="365.50" y="282.50" font-size="8.2" text-anchor="end" font-weight="normal" fill="#333" >750</text><line x1="366.6" y1="303.1" x2="368.6" y2="303.1" stroke="#333" stroke-width="0.6"/><text x="365.50" y="306.10" font-size="8.2" text-anchor="end" font-weight="normal" fill="#333" >500</text><line x1="366.6" y1="326.7" x2="368.6" y2="326.7" stroke="#333" stroke-width="0.6"/><text x="365.50" y="329.70" font-size="8.2" text-anchor="end" font-weight="normal" fill="#333" >250</text><line x1="366.6" y1="350.4" x2="368.6" y2="350.4" stroke="#333" stroke-width="0.6"/><text x="365.50" y="353.40" font-size="8.2" text-anchor="end" font-weight="normal" fill="#333" >0</text><line x1="388.7" y1="366.3" x2="388.7" y2="368.3" stroke="#333" stroke-width="0.6"/><text x="388.70" y="376.80" font-size="8.6" text-anchor="middle" font-weight="normal" fill="#222" >GZ</text><line x1="422.4" y1="366.3" x2="422.4" y2="368.3" stroke="#333" stroke-width="0.6"/><text x="422.40" y="376.80" font-size="8.6" text-anchor="middle" font-weight="normal" fill="#222" >ZS</text><line x1="456.1" y1="366.3" x2="456.1" y2="368.3" stroke="#333" stroke-width="0.6"/><text x="456.10" y="376.80" font-size="8.6" text-anchor="middle" font-weight="normal" fill="#222" >GS</text><line x1="489.6" y1="366.3" x2="489.6" y2="368.3" stroke="#333" stroke-width="0.6"/><text x="489.60" y="376.80" font-size="8.6" text-anchor="middle" font-weight="normal" fill="#222" >ND</text><path d="M388.70,286.00 C388.92,286.92 388.57,289.37 390.00,291.50 C391.43,293.63 395.17,296.35 397.30,298.80 C399.43,301.25 401.37,303.45 402.80,306.20 C404.23,308.95 405.90,312.57 405.90,315.30 C405.90,318.03 404.08,320.15 402.80,322.60 C401.52,325.05 399.08,327.55 398.20,330.00 C397.32,332.45 397.03,334.87 397.50,337.30 C397.97,339.73 400.20,342.77 401.00,344.60 C401.80,346.43 402.30,347.07 402.30,348.30 C402.30,349.53 402.45,350.63 401.00,352.00 C399.55,353.37 395.65,354.98 393.60,356.50 C391.55,358.02 389.52,360.33 388.70,361.10 L388.70,361.10 C387.88,360.33 385.85,358.02 383.80,356.50 C381.75,354.98 377.85,353.37 376.40,352.00 C374.95,350.63 375.10,349.53 375.10,348.30 C375.10,347.07 375.60,346.43 376.40,344.60 C377.20,342.77 379.43,339.73 379.90,337.30 C380.37,334.87 380.08,332.45 379.20,330.00 C378.32,327.55 375.88,325.05 374.60,322.60 C373.32,320.15 371.50,318.03 371.50,315.30 C371.50,312.57 373.17,308.95 374.60,306.20 C376.03,303.45 377.97,301.25 380.10,298.80 C382.23,296.35 385.97,293.63 387.40,291.50 C388.83,289.37 388.48,286.92 388.70,286.00 Z" fill="#ec7a35" stroke="#111" stroke-width="0.8"/><line x1="388.7" y1="293.3" x2="388.7" y2="350.1" stroke="#222" stroke-width="0.9"/><rect x="385.4" y="313.5" width="6.800000000000011" height="28.399999999999977" fill="#fff" stroke="#111" stroke-width="0.8"/><line x1="385.4" y1="322.6" x2="392.2" y2="322.6" stroke="#111" stroke-width="1.1"/><line x1="422.4" y1="295.2" x2="422.4" y2="320" stroke="#000" stroke-width="2.2"/><path d="M422.40,319.00 C422.48,319.30 422.50,318.97 422.90,320.80 C423.30,322.63 424.33,327.25 424.80,330.00 C425.27,332.75 425.18,335.47 425.70,337.30 C426.22,339.13 426.78,339.80 427.90,341.00 C429.02,342.20 430.98,343.42 432.40,344.50 C433.82,345.58 435.48,346.68 436.40,347.50 C437.32,348.32 437.98,348.82 437.90,349.40 C437.82,349.98 436.98,350.40 435.90,351.00 C434.82,351.60 432.90,352.33 431.40,353.00 C429.90,353.67 428.15,354.33 426.90,355.00 C425.65,355.67 424.65,356.43 423.90,357.00 C423.15,357.57 422.65,358.17 422.40,358.40 L422.40,358.40 C422.15,358.17 421.65,357.57 420.90,357.00 C420.15,356.43 419.15,355.67 417.90,355.00 C416.65,354.33 414.90,353.67 413.40,353.00 C411.90,352.33 409.98,351.60 408.90,351.00 C407.82,350.40 406.98,349.98 406.90,349.40 C406.82,348.82 407.48,348.32 408.40,347.50 C409.32,346.68 410.98,345.58 412.40,344.50 C413.82,343.42 415.78,342.20 416.90,341.00 C418.02,339.80 418.58,339.13 419.10,337.30 C419.62,335.47 419.53,332.75 420.00,330.00 C420.47,327.25 421.50,322.63 421.90,320.80 C422.30,318.97 422.32,319.30 422.40,319.00 Z" fill="#6c9fd6" stroke="#111" stroke-width="0.8"/><line x1="422.4" y1="320" x2="422.4" y2="350" stroke="#222" stroke-width="0.9"/><rect x="419.9" y="337.3" width="5.5" height="11.899999999999977" fill="#fff" stroke="#111" stroke-width="0.8"/><line x1="419.9" y1="347.4" x2="425.4" y2="347.4" stroke="#111" stroke-width="1.1"/><path d="M456.10,293.30 C456.18,294.53 456.38,298.55 456.60,300.70 C456.82,302.85 457.08,304.07 457.40,306.20 C457.72,308.33 458.02,311.07 458.50,313.50 C458.98,315.93 460.25,318.97 460.30,320.80 C460.35,322.63 459.20,322.97 458.80,324.50 C458.40,326.03 457.77,328.08 457.90,330.00 C458.03,331.92 458.90,334.33 459.60,336.00 C460.30,337.67 460.85,338.67 462.10,340.00 C463.35,341.33 465.60,342.83 467.10,344.00 C468.60,345.17 470.10,346.17 471.10,347.00 C472.10,347.83 472.70,348.42 473.10,349.00 C473.50,349.58 474.00,350.00 473.50,350.50 C473.00,351.00 471.58,351.42 470.10,352.00 C468.62,352.58 466.27,353.33 464.60,354.00 C462.93,354.67 461.27,355.33 460.10,356.00 C458.93,356.67 458.27,357.33 457.60,358.00 C456.93,358.67 456.35,359.67 456.10,360.00 L456.10,360.00 C455.85,359.67 455.27,358.67 454.60,358.00 C453.93,357.33 453.27,356.67 452.10,356.00 C450.93,355.33 449.27,354.67 447.60,354.00 C445.93,353.33 443.58,352.58 442.10,352.00 C440.62,351.42 439.20,351.00 438.70,350.50 C438.20,350.00 438.70,349.58 439.10,349.00 C439.50,348.42 440.10,347.83 441.10,347.00 C442.10,346.17 443.60,345.17 445.10,344.00 C446.60,342.83 448.85,341.33 450.10,340.00 C451.35,338.67 451.90,337.67 452.60,336.00 C453.30,334.33 454.17,331.92 454.30,330.00 C454.43,328.08 453.80,326.03 453.40,324.50 C453.00,322.97 451.85,322.63 451.90,320.80 C451.95,318.97 453.22,315.93 453.70,313.50 C454.18,311.07 454.48,308.33 454.80,306.20 C455.12,304.07 455.38,302.85 455.60,300.70 C455.82,298.55 456.02,294.53 456.10,293.30 Z" fill="#16988a" stroke="#111" stroke-width="0.8"/><line x1="456.1" y1="300" x2="456.1" y2="350" stroke="#222" stroke-width="0.9"/><rect x="453" y="325.4" width="6.199999999999989" height="24.700000000000045" fill="#fff" stroke="#111" stroke-width="0.8"/><line x1="453" y1="348.8" x2="459.2" y2="348.8" stroke="#111" stroke-width="1.1"/><line x1="489.6" y1="296.1" x2="489.6" y2="348" stroke="#000" stroke-width="3.3"/><path d="M489.60,347.00 C490.27,347.25 491.10,348.03 493.60,348.50 C496.10,348.97 505.27,349.42 504.60,349.80 C503.93,350.18 492.10,350.63 489.60,350.80 L489.60,350.80 C487.10,350.63 475.27,350.18 474.60,349.80 C473.93,349.42 483.10,348.97 485.60,348.50 C488.10,348.03 488.93,347.25 489.60,347.00 Z" fill="#666" stroke="#111" stroke-width="0.8"/><line x1="489.6" y1="350" x2="489.6" y2="350" stroke="#222" stroke-width="0.9"/><rect x="487" y="349" width="5" height="1" fill="#fff" stroke="#111" stroke-width="0.8"/><line x1="487" y1="349.5" x2="492" y2="349.5" stroke="#111" stroke-width="1.1"/><path d="M388.7,279.3 L388.7,276.8 L422.4,276.8 L422.4,282" fill="none" stroke="#333" stroke-width="0.9"/><text x="405.55" y="277.40" font-size="8.4" text-anchor="middle" font-weight="normal" fill="#333" >****</text><path d="M422.4,284.5 L422.4,282 L456.1,282 L456.1,286.4" fill="none" stroke="#333" stroke-width="0.9"/><text x="439.25" y="280.70" font-size="8.2" text-anchor="middle" font-weight="normal" fill="#222" >ns</text><path d="M456.1,288.9 L456.1,286.4 L489.6,286.4 L489.6,288.7" fill="none" stroke="#333" stroke-width="0.9"/><text x="472.85" y="287.00" font-size="8.4" text-anchor="middle" font-weight="normal" fill="#333" >****</text><line x1="533.4" y1="277.6" x2="533.4" y2="367" stroke="#111" stroke-width="1.2"/><line x1="532.8" y1="367" x2="673.2" y2="367" stroke="#111" stroke-width="1.2"/><line x1="531.4" y1="292.6" x2="533.4" y2="292.6" stroke="#333" stroke-width="0.6"/><text x="530.00" y="295.60" font-size="8.2" text-anchor="end" font-weight="normal" fill="#333" >750</text><line x1="531.4" y1="312.3" x2="533.4" y2="312.3" stroke="#333" stroke-width="0.6"/><text x="530.00" y="315.30" font-size="8.2" text-anchor="end" font-weight="normal" fill="#333" >500</text><line x1="531.4" y1="331.2" x2="533.4" y2="331.2" stroke="#333" stroke-width="0.6"/><text x="530.00" y="334.20" font-size="8.2" text-anchor="end" font-weight="normal" fill="#333" >250</text><line x1="531.4" y1="350.4" x2="533.4" y2="350.4" stroke="#333" stroke-width="0.6"/><text x="530.00" y="353.40" font-size="8.2" text-anchor="end" font-weight="normal" fill="#333" >0</text><line x1="553.6" y1="367" x2="553.6" y2="369" stroke="#333" stroke-width="0.6"/><text x="553.60" y="376.80" font-size="8.6" text-anchor="middle" font-weight="normal" fill="#222" >GZ</text><line x1="587" y1="367" x2="587" y2="369" stroke="#333" stroke-width="0.6"/><text x="587.00" y="376.80" font-size="8.6" text-anchor="middle" font-weight="normal" fill="#222" >ZS</text><line x1="620.5" y1="367" x2="620.5" y2="369" stroke="#333" stroke-width="0.6"/><text x="620.50" y="376.80" font-size="8.6" text-anchor="middle" font-weight="normal" fill="#222" >GS</text><line x1="654.4" y1="367" x2="654.4" y2="369" stroke="#333" stroke-width="0.6"/><text x="654.40" y="376.80" font-size="8.6" text-anchor="middle" font-weight="normal" fill="#222" >ND</text><path d="M553.60,282.30 C553.82,283.83 553.47,288.75 554.90,291.50 C556.33,294.25 560.07,296.35 562.20,298.80 C564.33,301.25 566.32,303.75 567.70,306.20 C569.08,308.65 570.65,311.07 570.50,313.50 C570.35,315.93 568.48,318.37 566.80,320.80 C565.12,323.23 561.68,325.97 560.40,328.10 C559.12,330.23 558.95,331.77 559.10,333.60 C559.25,335.43 560.78,337.27 561.30,339.10 C561.82,340.93 562.50,342.77 562.20,344.60 C561.90,346.43 560.72,348.27 559.50,350.10 C558.28,351.93 555.88,354.07 554.90,355.60 C553.92,357.13 553.82,358.68 553.60,359.30 L553.60,359.30 C553.38,358.68 553.28,357.13 552.30,355.60 C551.32,354.07 548.92,351.93 547.70,350.10 C546.48,348.27 545.30,346.43 545.00,344.60 C544.70,342.77 545.38,340.93 545.90,339.10 C546.42,337.27 547.95,335.43 548.10,333.60 C548.25,331.77 548.08,330.23 546.80,328.10 C545.52,325.97 542.08,323.23 540.40,320.80 C538.72,318.37 536.85,315.93 536.70,313.50 C536.55,311.07 538.12,308.65 539.50,306.20 C540.88,303.75 542.87,301.25 545.00,298.80 C547.13,296.35 550.87,294.25 552.30,291.50 C553.73,288.75 553.38,283.83 553.60,282.30 Z" fill="#ec7a35" stroke="#111" stroke-width="0.8"/><line x1="553.6" y1="290" x2="553.6" y2="350.4" stroke="#222" stroke-width="0.9"/><rect x="550.9" y="310.4" width="6.2000000000000455" height="26.0" fill="#fff" stroke="#111" stroke-width="0.8"/><line x1="550.9" y1="317.5" x2="557.1" y2="317.5" stroke="#111" stroke-width="1.1"/><path d="M587.00,293.30 C587.25,294.83 587.83,299.45 588.50,302.50 C589.17,305.55 590.33,308.55 591.00,311.60 C591.67,314.65 592.10,317.73 592.50,320.80 C592.90,323.87 592.95,327.25 593.40,330.00 C593.85,332.75 593.98,334.87 595.20,337.30 C596.42,339.73 599.40,342.77 600.70,344.60 C602.00,346.43 603.75,347.07 603.00,348.30 C602.25,349.53 598.57,350.63 596.20,352.00 C593.83,353.37 590.33,355.13 588.80,356.50 C587.27,357.87 587.30,359.58 587.00,360.20 L587.00,360.20 C586.70,359.58 586.73,357.87 585.20,356.50 C583.67,355.13 580.17,353.37 577.80,352.00 C575.43,350.63 571.75,349.53 571.00,348.30 C570.25,347.07 572.00,346.43 573.30,344.60 C574.60,342.77 577.58,339.73 578.80,337.30 C580.02,334.87 580.15,332.75 580.60,330.00 C581.05,327.25 581.10,323.87 581.50,320.80 C581.90,317.73 582.33,314.65 583.00,311.60 C583.67,308.55 584.83,305.55 585.50,302.50 C586.17,299.45 586.75,294.83 587.00,293.30 Z" fill="#6c9fd6" stroke="#111" stroke-width="0.8"/><line x1="587" y1="296" x2="587" y2="350" stroke="#222" stroke-width="0.9"/><rect x="583.9" y="326.7" width="6.399999999999977" height="22.5" fill="#fff" stroke="#111" stroke-width="0.8"/><line x1="583.9" y1="341.9" x2="590.3" y2="341.9" stroke="#111" stroke-width="1.1"/><path d="M620.50,293.30 C620.75,294.53 621.38,298.25 622.00,300.70 C622.62,303.15 623.65,305.27 624.20,308.00 C624.75,310.73 625.43,314.97 625.30,317.10 C625.17,319.23 623.72,318.65 623.40,320.80 C623.08,322.95 623.13,327.30 623.40,330.00 C623.67,332.70 624.23,335.17 625.00,337.00 C625.77,338.83 626.67,339.67 628.00,341.00 C629.33,342.33 631.50,343.83 633.00,345.00 C634.50,346.17 636.15,347.23 637.00,348.00 C637.85,348.77 638.43,349.02 638.10,349.60 C637.77,350.18 636.43,350.77 635.00,351.50 C633.57,352.23 631.17,353.17 629.50,354.00 C627.83,354.83 626.32,355.62 625.00,356.50 C623.68,357.38 622.35,358.38 621.60,359.30 C620.85,360.22 620.68,361.55 620.50,362.00 L620.50,362.00 C620.32,361.55 620.15,360.22 619.40,359.30 C618.65,358.38 617.32,357.38 616.00,356.50 C614.68,355.62 613.17,354.83 611.50,354.00 C609.83,353.17 607.43,352.23 606.00,351.50 C604.57,350.77 603.23,350.18 602.90,349.60 C602.57,349.02 603.15,348.77 604.00,348.00 C604.85,347.23 606.50,346.17 608.00,345.00 C609.50,343.83 611.67,342.33 613.00,341.00 C614.33,339.67 615.23,338.83 616.00,337.00 C616.77,335.17 617.33,332.70 617.60,330.00 C617.87,327.30 617.92,322.95 617.60,320.80 C617.28,318.65 615.83,319.23 615.70,317.10 C615.57,314.97 616.25,310.73 616.80,308.00 C617.35,305.27 618.38,303.15 619.00,300.70 C619.62,298.25 620.25,294.53 620.50,293.30 Z" fill="#16988a" stroke="#111" stroke-width="0.8"/><line x1="620.5" y1="300" x2="620.5" y2="350" stroke="#222" stroke-width="0.9"/><rect x="617.8" y="321.2" width="6.0" height="28.900000000000034" fill="#fff" stroke="#111" stroke-width="0.8"/><line x1="617.8" y1="349.2" x2="623.8" y2="349.2" stroke="#111" stroke-width="1.1"/><line x1="654.4" y1="294.2" x2="654.4" y2="347" stroke="#000" stroke-width="3.3"/><path d="M654.40,346.50 C655.07,346.78 655.87,347.75 658.40,348.20 C660.93,348.65 670.27,348.83 669.60,349.20 C668.93,349.57 656.93,350.20 654.40,350.40 L654.40,350.40 C651.87,350.20 639.87,349.57 639.20,349.20 C638.53,348.83 647.87,348.65 650.40,348.20 C652.93,347.75 653.73,346.78 654.40,346.50 Z" fill="#666" stroke="#111" stroke-width="0.8"/><line x1="654.4" y1="349" x2="654.4" y2="349" stroke="#222" stroke-width="0.9"/><rect x="652" y="348.5" width="5" height="1.0" fill="#fff" stroke="#111" stroke-width="0.8"/><line x1="652" y1="349" x2="657" y2="349" stroke="#111" stroke-width="1.1"/><path d="M553.6,279.3 L553.6,276.8 L587,276.8 L587,280.1" fill="none" stroke="#333" stroke-width="0.9"/><text x="570.30" y="277.40" font-size="8.4" text-anchor="middle" font-weight="normal" fill="#333" >****</text><path d="M587,282.6 L587,280.1 L620.5,280.1 L620.5,284.2" fill="none" stroke="#333" stroke-width="0.9"/><text x="603.75" y="280.70" font-size="8.4" text-anchor="middle" font-weight="normal" fill="#333" >**</text><path d="M620.5,286.7 L620.5,284.2 L654.4,284.2 L654.4,286.9" fill="none" stroke="#333" stroke-width="0.9"/><text x="637.45" y="284.80" font-size="8.4" text-anchor="middle" font-weight="normal" fill="#333" >****</text><text x="0.00" y="392.30" font-size="12.5" text-anchor="start" font-weight="bold" fill="#111" >e</text><rect x="71.5" y="388.10" width="15.40" height="7.22" fill="#fee3db"/><rect x="85.9" y="388.10" width="15.40" height="7.22" fill="#ce635b"/><rect x="100.3" y="388.10" width="15.40" height="7.22" fill="#b5d7e9"/><rect x="114.7" y="388.10" width="14.40" height="7.22" fill="#6fb2d5"/><rect x="71.5" y="394.32" width="15.40" height="7.22" fill="#ffe5dd"/><rect x="85.9" y="394.32" width="15.40" height="7.22" fill="#c9605b"/><rect x="100.3" y="394.32" width="15.40" height="7.22" fill="#bbdbec"/><rect x="114.7" y="394.32" width="14.40" height="7.22" fill="#6bafd4"/><rect x="71.5" y="400.54" width="15.40" height="7.22" fill="#ffffff"/><rect x="85.9" y="400.54" width="15.40" height="7.22" fill="#c65a56"/><rect x="100.3" y="400.54" width="15.40" height="7.22" fill="#d9ecf6"/><rect x="114.7" y="400.54" width="14.40" height="7.22" fill="#76b6d8"/><rect x="71.5" y="406.76" width="15.40" height="6.22" fill="#f6fafe"/><rect x="85.9" y="406.76" width="15.40" height="6.22" fill="#c75b57"/><rect x="100.3" y="406.76" width="15.40" height="6.22" fill="#fdfdff"/><rect x="114.7" y="406.76" width="14.40" height="6.22" fill="#5fa4c9"/><rect x="71.5" y="414.00" width="15.40" height="7.22" fill="#ffede6"/><rect x="85.9" y="414.00" width="15.40" height="7.22" fill="#cc625c"/><rect x="100.3" y="414.00" width="15.40" height="7.22" fill="#b3d5e7"/><rect x="114.7" y="414.00" width="14.40" height="7.22" fill="#7ab8d9"/><rect x="71.5" y="420.22" width="15.40" height="7.22" fill="#fff9f7"/><rect x="85.9" y="420.22" width="15.40" height="7.22" fill="#ce665e"/><rect x="100.3" y="420.22" width="15.40" height="7.22" fill="#f3f8fc"/><rect x="114.7" y="420.22" width="14.40" height="7.22" fill="#62a3c9"/><rect x="71.5" y="426.44" width="15.40" height="7.22" fill="#d7eaf5"/><rect x="85.9" y="426.44" width="15.40" height="7.22" fill="#ca5f5a"/><rect x="100.3" y="426.44" width="15.40" height="7.22" fill="#fffefe"/><rect x="114.7" y="426.44" width="14.40" height="7.22" fill="#74b3d6"/><rect x="71.5" y="432.66" width="15.40" height="6.22" fill="#c3e0ee"/><rect x="85.9" y="432.66" width="15.40" height="6.22" fill="#d06a61"/><rect x="100.3" y="432.66" width="15.40" height="6.22" fill="#ffded5"/><rect x="114.7" y="432.66" width="14.40" height="6.22" fill="#70b2d5"/><rect x="71.5" y="440.10" width="15.40" height="6.22" fill="#8cc2de"/><rect x="85.9" y="440.10" width="15.40" height="6.22" fill="#bc4d4c"/><rect x="100.3" y="440.10" width="15.40" height="6.22" fill="#f5f9fd"/><rect x="114.7" y="440.10" width="14.40" height="6.22" fill="#c5e1ef"/><rect x="71.5" y="447.40" width="15.40" height="7.22" fill="#f6f9fd"/><rect x="85.9" y="447.40" width="15.40" height="7.22" fill="#7ab6d8"/><rect x="100.3" y="447.40" width="15.40" height="7.22" fill="#f6f9fd"/><rect x="114.7" y="447.40" width="14.40" height="7.22" fill="#c45755"/><rect x="71.5" y="453.62" width="15.40" height="7.22" fill="#d3e7f3"/><rect x="85.9" y="453.62" width="15.40" height="7.22" fill="#83bbdb"/><rect x="100.3" y="453.62" width="15.40" height="7.22" fill="#fafbfe"/><rect x="114.7" y="453.62" width="14.40" height="7.22" fill="#c35654"/><rect x="71.5" y="459.84" width="15.40" height="6.22" fill="#cde4f1"/><rect x="85.9" y="459.84" width="15.40" height="6.22" fill="#85bddc"/><rect x="100.3" y="459.84" width="15.40" height="6.22" fill="#fefeff"/><rect x="114.7" y="459.84" width="14.40" height="6.22" fill="#c55856"/><rect x="71.5" y="467.40" width="15.40" height="6.22" fill="#c7e2f1"/><rect x="85.9" y="467.40" width="15.40" height="6.22" fill="#b74a49"/><rect x="100.3" y="467.40" width="15.40" height="6.22" fill="#c7e2f1"/><rect x="114.7" y="467.40" width="14.40" height="6.22" fill="#c0deee"/><rect x="71.5" y="474.60" width="15.40" height="7.22" fill="#ef947f"/><rect x="85.9" y="474.60" width="15.40" height="7.22" fill="#f19a84"/><rect x="100.3" y="474.60" width="15.40" height="7.22" fill="#93c6e0"/><rect x="114.7" y="474.60" width="14.40" height="7.22" fill="#81bbdb"/><rect x="71.5" y="480.82" width="15.40" height="7.22" fill="#9dcce4"/><rect x="85.9" y="480.82" width="15.40" height="7.22" fill="#bd4f4e"/><rect x="100.3" y="480.82" width="15.40" height="7.22" fill="#fffdfe"/><rect x="114.7" y="480.82" width="14.40" height="7.22" fill="#9ac9e2"/><rect x="71.5" y="487.04" width="15.40" height="7.22" fill="#8bc2de"/><rect x="85.9" y="487.04" width="15.40" height="7.22" fill="#df7662"/><rect x="100.3" y="487.04" width="15.40" height="7.22" fill="#fbbdab"/><rect x="114.7" y="487.04" width="14.40" height="7.22" fill="#8bc2de"/><rect x="71.5" y="493.26" width="15.40" height="7.22" fill="#89c0dd"/><rect x="85.9" y="493.26" width="15.40" height="7.22" fill="#eb8f78"/><rect x="100.3" y="493.26" width="15.40" height="7.22" fill="#f7ae9a"/><rect x="114.7" y="493.26" width="14.40" height="7.22" fill="#88c1dd"/><rect x="71.5" y="499.48" width="15.40" height="6.22" fill="#87bfdc"/><rect x="85.9" y="499.48" width="15.40" height="6.22" fill="#ef967d"/><rect x="100.3" y="499.48" width="15.40" height="6.22" fill="#f5a994"/><rect x="114.7" y="499.48" width="14.40" height="6.22" fill="#85bfdc"/><text x="131.00" y="394.10" font-size="8.3" text-anchor="start" font-weight="normal" fill="#222" >Spermatid</text><text x="131.00" y="400.30" font-size="8.3" text-anchor="start" font-weight="normal" fill="#222" >Sperm</text><text x="131.00" y="406.60" font-size="8.3" text-anchor="start" font-weight="normal" fill="#222" >Pre−ZGA</text><text x="131.00" y="412.90" font-size="8.3" text-anchor="start" font-weight="normal" fill="#222" >ZGA</text><text x="131.00" y="420.30" font-size="8.3" text-anchor="start" font-weight="normal" fill="#222" >Spermatid</text><text x="131.00" y="426.00" font-size="8.3" text-anchor="start" font-weight="normal" fill="#222" >Sperm</text><text x="131.00" y="432.40" font-size="8.3" text-anchor="start" font-weight="normal" fill="#222" >Pre−ZGA</text><text x="131.00" y="439.00" font-size="8.3" text-anchor="start" font-weight="normal" fill="#222" >ZGA</text><text x="131.00" y="445.80" font-size="8.3" text-anchor="start" font-weight="normal" fill="#222" >Pre−ZGA</text><text x="131.00" y="452.10" font-size="8.3" text-anchor="start" font-weight="normal" fill="#222" >Spermatid</text><text x="131.00" y="458.40" font-size="8.3" text-anchor="start" font-weight="normal" fill="#222" >Sperm</text><text x="131.00" y="464.90" font-size="8.3" text-anchor="start" font-weight="normal" fill="#222" >Pre−ZGA</text><text x="131.00" y="477.40" font-size="8.3" text-anchor="start" font-weight="normal" fill="#222" >Spermatid</text><text x="131.00" y="483.70" font-size="8.3" text-anchor="start" font-weight="normal" fill="#222" >6hpf</text><text x="131.00" y="490.20" font-size="8.3" text-anchor="start" font-weight="normal" fill="#222" >7hpf</text><text x="131.00" y="496.50" font-size="8.3" text-anchor="start" font-weight="normal" fill="#222" >8hpf</text><text x="131.00" y="503.00" font-size="8.3" text-anchor="start" font-weight="normal" fill="#222" >9hpf</text><text x="61.00" y="402.00" font-size="8.3" text-anchor="end" font-weight="normal" fill="#222" >H3K4me3</text><text x="61.00" y="409.00" font-size="8.3" text-anchor="end" font-weight="normal" fill="#222" >peak intensity</text><text x="61.00" y="425.30" font-size="8.3" text-anchor="end" font-weight="normal" fill="#222" >H3K4me3</text><text x="61.00" y="432.30" font-size="8.3" text-anchor="end" font-weight="normal" fill="#222" >peak width</text><text x="61.00" y="445.60" font-size="8.3" text-anchor="end" font-weight="normal" fill="#222" >Accessibility</text><text x="61.00" y="456.80" font-size="8.3" text-anchor="end" font-weight="normal" fill="#222" >DNA</text><text x="61.00" y="463.30" font-size="8.3" text-anchor="end" font-weight="normal" fill="#222" >methylation</text><text x="61.00" y="473.40" font-size="8.3" text-anchor="end" font-weight="normal" fill="#222" >CpG density</text><text x="61.00" y="492.90" font-size="8.3" text-anchor="end" font-weight="normal" fill="#222" >Expression</text><text x="61.00" y="499.50" font-size="8.3" text-anchor="end" font-weight="normal" fill="#222" >levels</text><text transform="translate(82.3,507) rotate(-90)" font-size="8.3" text-anchor="end" fill="#222">GS</text><text transform="translate(98,507) rotate(-90)" font-size="8.3" text-anchor="end" fill="#222">GZ</text><text transform="translate(113.4,507) rotate(-90)" font-size="8.3" text-anchor="end" fill="#222">ZS</text><text transform="translate(128,507) rotate(-90)" font-size="8.3" text-anchor="end" fill="#222">ND</text><text x="181.70" y="394.80" font-size="8.3" text-anchor="start" font-weight="normal" fill="#222" >Mean</text><text x="181.70" y="401.70" font-size="8.3" text-anchor="start" font-weight="normal" fill="#222" >(z−score)</text><defs><linearGradient id="zg" x1="0" y1="0" x2="0" y2="1"><stop offset="0" stop-color="#67001f"/><stop offset="0.25" stop-color="#d6604d"/><stop offset="0.5" stop-color="#f7f7f7"/><stop offset="0.75" stop-color="#4393c3"/><stop offset="1" stop-color="#053061"/></linearGradient></defs><rect x="181.1" y="404.9" width="7.4" height="31.6" fill="url(#zg)"/><line x1="186.5" y1="406.5" x2="188.5" y2="406.5" stroke="#fff" stroke-width="0.6"/><text x="189.80" y="410.10" font-size="8.3" text-anchor="start" font-weight="normal" fill="#222" >2</text><line x1="186.5" y1="412.9" x2="188.5" y2="412.9" stroke="#fff" stroke-width="0.6"/><text x="189.80" y="416.50" font-size="8.3" text-anchor="start" font-weight="normal" fill="#222" >1</text><line x1="186.5" y1="420.1" x2="188.5" y2="420.1" stroke="#fff" stroke-width="0.6"/><text x="189.80" y="423.70" font-size="8.3" text-anchor="start" font-weight="normal" fill="#222" >0</text><line x1="186.5" y1="428.2" x2="188.5" y2="428.2" stroke="#fff" stroke-width="0.6"/><text x="189.80" y="431.80" font-size="8.3" text-anchor="start" font-weight="normal" fill="#222" >−1</text><line x1="186.5" y1="435.4" x2="188.5" y2="435.4" stroke="#fff" stroke-width="0.6"/><text x="189.80" y="439.00" font-size="8.3" text-anchor="start" font-weight="normal" fill="#222" >−2</text><text x="222.30" y="392.00" font-size="12.5" text-anchor="start" font-weight="bold" fill="#111" >f</text><text x="233.10" y="399.20" font-size="9.3" text-anchor="start" font-weight="bold" fill="#111" >Shared</text><circle cx="281" cy="450.8" r="49.5" fill="#d8c878"/><circle cx="315.8" cy="450.8" r="24.3" fill="#ec7630"/><defs><clipPath id="cf"><circle cx="281" cy="450.8" r="49.5"/></clipPath></defs><circle cx="315.8" cy="450.8" r="24.3" fill="#e8243f" clip-path="url(#cf)"/><circle cx="315.8" cy="450.8" r="24.3" fill="none" stroke="#fff" stroke-width="1.4"/><defs><clipPath id="cf2"><circle cx="315.8" cy="450.8" r="24.3"/></clipPath></defs><circle cx="281" cy="450.8" r="49.5" fill="none" stroke="#fff" stroke-width="1.4" clip-path="url(#cf2)"/><text x="264.20" y="452.30" font-size="8.5" text-anchor="middle" font-weight="normal" fill="#fff" >1528</text><text x="313.50" y="452.30" font-size="8.5" text-anchor="middle" font-weight="normal" fill="#fff" >377</text><text x="339.30" y="446.20" font-size="8.5" text-anchor="start" font-weight="normal" fill="#222" >66</text><text x="334.00" y="425.80" font-size="9.8" text-anchor="start" font-weight="bold" fill="#111" >GZ</text><text x="364.80" y="393.80" font-size="12.5" text-anchor="start" font-weight="bold" fill="#111" >g</text><text x="424.80" y="395.40" font-size="8.2" text-anchor="middle" font-weight="normal" fill="#222" >H3K4me3</text><rect x="372" y="401.3" width="9.3" height="8.8" fill="#d8c878"/><text x="383.40" y="408.20" font-size="8.2" text-anchor="start" font-weight="normal" fill="#222" >Shared</text><rect x="416.5" y="401.3" width="9.3" height="8.8" fill="#a6a6a6"/><text x="427.90" y="408.20" font-size="8.2" text-anchor="start" font-weight="normal" fill="#222" >Other</text><rect x="455.8" y="401.3" width="9.3" height="8.8" fill="#dcdcdc"/><text x="467.20" y="408.20" font-size="8.2" text-anchor="start" font-weight="normal" fill="#222" >Absent</text><line x1="399.1" y1="414.1" x2="399.1" y2="488.4" stroke="#111" stroke-width="1.2"/><line x1="398.5" y1="488.4" x2="487.3" y2="488.4" stroke="#111" stroke-width="1.2"/><line x1="397" y1="417.30" x2="399.1" y2="417.30" stroke="#333" stroke-width="0.6"/><text x="393.30" y="420.30" font-size="8.2" text-anchor="end" font-weight="normal" fill="#333" >100</text><line x1="397" y1="433.95" x2="399.1" y2="433.95" stroke="#333" stroke-width="0.6"/><text x="393.30" y="436.95" font-size="8.2" text-anchor="end" font-weight="normal" fill="#333" >75</text><line x1="397" y1="450.60" x2="399.1" y2="450.60" stroke="#333" stroke-width="0.6"/><text x="393.30" y="453.60" font-size="8.2" text-anchor="end" font-weight="normal" fill="#333" >50</text><line x1="397" y1="467.25" x2="399.1" y2="467.25" stroke="#333" stroke-width="0.6"/><text x="393.30" y="470.25" font-size="8.2" text-anchor="end" font-weight="normal" fill="#333" >25</text><line x1="397" y1="483.90" x2="399.1" y2="483.90" stroke="#333" stroke-width="0.6"/><text x="393.30" y="486.90" font-size="8.2" text-anchor="end" font-weight="normal" fill="#333" >0</text><text transform="translate(377.5,451.9) rotate(-90)" font-size="8" text-anchor="middle" fill="#222">%</text><rect x="403.9" y="417.30" width="18.8" height="27.97" fill="#d8c878"/><rect x="403.9" y="445.27" width="18.8" height="10.66" fill="#a6a6a6"/><rect x="403.9" y="455.93" width="18.8" height="27.97" fill="#dcdcdc"/><line x1="413.29999999999995" y1="488.4" x2="413.29999999999995" y2="490.4" stroke="#333" stroke-width="0.6"/><text x="413.30" y="497.20" font-size="8.4" text-anchor="middle" font-weight="normal" fill="#222" >GS</text><rect x="424.4" y="417.30" width="18.8" height="55.28" fill="#d8c878"/><rect x="424.4" y="472.58" width="18.8" height="4.00" fill="#a6a6a6"/><rect x="424.4" y="476.57" width="18.8" height="7.33" fill="#dcdcdc"/><line x1="433.79999999999995" y1="488.4" x2="433.79999999999995" y2="490.4" stroke="#333" stroke-width="0.6"/><text x="433.80" y="497.20" font-size="8.4" text-anchor="middle" font-weight="normal" fill="#222" >GZ</text><rect x="444.9" y="417.30" width="18.8" height="17.98" fill="#d8c878"/><rect x="444.9" y="435.28" width="18.8" height="23.31" fill="#a6a6a6"/><rect x="444.9" y="458.59" width="18.8" height="25.31" fill="#dcdcdc"/><line x1="454.29999999999995" y1="488.4" x2="454.29999999999995" y2="490.4" stroke="#333" stroke-width="0.6"/><text x="454.30" y="497.20" font-size="8.4" text-anchor="middle" font-weight="normal" fill="#222" >ZS</text><rect x="465.6" y="417.30" width="18.8" height="5.33" fill="#d8c878"/><rect x="465.6" y="422.63" width="18.8" height="4.66" fill="#a6a6a6"/><rect x="465.6" y="427.29" width="18.8" height="56.61" fill="#dcdcdc"/><line x1="475.0" y1="488.4" x2="475.0" y2="490.4" stroke="#333" stroke-width="0.6"/><text x="475.00" y="497.20" font-size="8.4" text-anchor="middle" font-weight="normal" fill="#222" >ND</text><text x="438.60" y="505.20" font-size="8.4" text-anchor="middle" font-weight="normal" fill="#222" >RNA</text><text x="497.90" y="392.80" font-size="12.5" text-anchor="start" font-weight="bold" fill="#111" >h</text><rect x="541.4" y="398.6" width="92" height="90.4" fill="#fff" stroke="#111" stroke-width="1.2"/><line x1="558.6" y1="399.2" x2="558.6" y2="488.4" stroke="#e3e3e3" stroke-width="0.7"/><line x1="587.7" y1="399.2" x2="587.7" y2="488.4" stroke="#e3e3e3" stroke-width="0.7"/><line x1="616.4" y1="399.2" x2="616.4" y2="488.4" stroke="#e3e3e3" stroke-width="0.7"/><line x1="542" y1="414.5" x2="632.8" y2="414.5" stroke="#e3e3e3" stroke-width="0.7"/><line x1="542" y1="442.3" x2="632.8" y2="442.3" stroke="#e3e3e3" stroke-width="0.7"/><line x1="542" y1="470.3" x2="632.8" y2="470.3" stroke="#e3e3e3" stroke-width="0.7"/><line x1="558.6" y1="489" x2="558.6" y2="491" stroke="#333" stroke-width="0.6"/><text x="558.60" y="500.60" font-size="8.2" text-anchor="middle" font-weight="normal" fill="#333" >GS</text><line x1="587.7" y1="489" x2="587.7" y2="491" stroke="#333" stroke-width="0.6"/><text x="587.70" y="500.60" font-size="8.2" text-anchor="middle" font-weight="normal" fill="#333" >GZ</text><line x1="616.4" y1="489" x2="616.4" y2="491" stroke="#333" stroke-width="0.6"/><text x="616.40" y="500.60" font-size="8.2" text-anchor="middle" font-weight="normal" fill="#333" >ZS</text><line x1="539.3" y1="414.5" x2="541.4" y2="414.5" stroke="#333" stroke-width="0.6"/><text x="537.90" y="417.40" font-size="8" text-anchor="end" font-weight="normal" fill="#333" >Shared</text><line x1="539.3" y1="442.3" x2="541.4" y2="442.3" stroke="#333" stroke-width="0.6"/><text x="537.90" y="445.20" font-size="8" text-anchor="end" font-weight="normal" fill="#333" >Lost</text><line x1="539.3" y1="470.3" x2="541.4" y2="470.3" stroke="#333" stroke-width="0.6"/><text x="537.90" y="473.20" font-size="8" text-anchor="end" font-weight="normal" fill="#333" >Gained</text><text transform="translate(512,435.9) rotate(-90)" font-size="8.2" text-anchor="middle" fill="#333">H3K4me3</text><circle cx="587.7" cy="414.5" r="5.3" fill="#fcca7c" stroke="#111" stroke-width="0.9"/><circle cx="558.6" cy="442.3" r="5.3" fill="#fcca7c" stroke="#111" stroke-width="0.9"/><circle cx="616.4" cy="470.3" r="7.1" fill="#f48a1f" stroke="#111" stroke-width="0.9"/><text x="657.80" y="403.50" font-size="8.2" text-anchor="middle" font-weight="normal" fill="#222" >adjusted</text><text x="657.80" y="412.00" font-size="8.2" text-anchor="middle" font-weight="normal" fill="#222" >p value</text><circle cx="645.5" cy="420.2" r="1.5" fill="#fff" stroke="#111" stroke-width="0.9"/><text x="657.80" y="423.20" font-size="8.2" text-anchor="start" font-weight="normal" fill="#222" >0.01</text><circle cx="645.5" cy="432" r="3.3" fill="#fde7bb" stroke="#111" stroke-width="0.9"/><text x="657.80" y="435.00" font-size="8.2" text-anchor="start" font-weight="normal" fill="#222" >1e−10</text><circle cx="645.5" cy="443.6" r="4.3" fill="#fdd898" stroke="#111" stroke-width="0.9"/><text x="657.80" y="446.60" font-size="8.2" text-anchor="start" font-weight="normal" fill="#222" >1e−25</text><circle cx="645.5" cy="455.6" r="5.3" fill="#fccb7e" stroke="#111" stroke-width="0.9"/><text x="657.80" y="458.60" font-size="8.2" text-anchor="start" font-weight="normal" fill="#222" >1e−35</text><circle cx="645.5" cy="471.8" r="8.5" fill="#d6257c" stroke="#111" stroke-width="0.9"/><text x="657.80" y="474.80" font-size="8.2" text-anchor="start" font-weight="normal" fill="#222" >1e−100</text>
</svg></body></html>
